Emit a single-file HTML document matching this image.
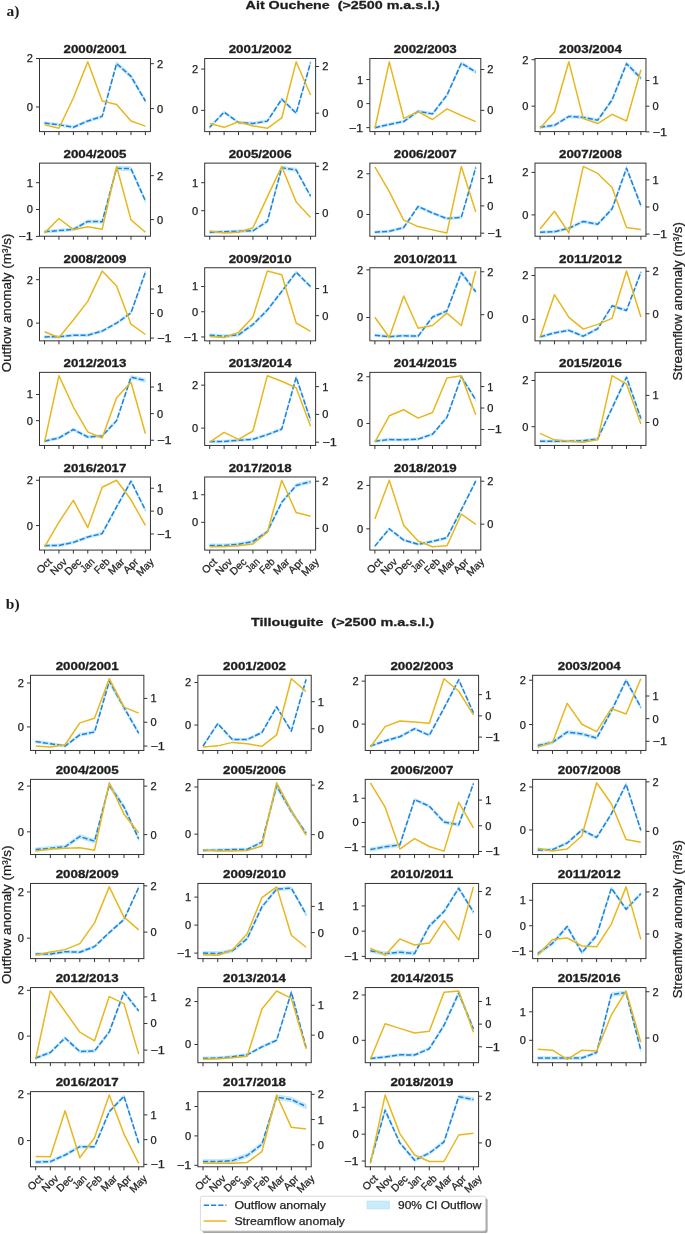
<!DOCTYPE html>
<html><head><meta charset="utf-8"><style>
html,body{margin:0;padding:0;background:#fff;width:685px;height:1234px;overflow:hidden}
svg{display:block;will-change:transform}
</style></head><body>
<svg width="685" height="1234" viewBox="0 0 685 1234">
<rect width="685" height="1234" fill="#ffffff"/>
<text x="6.60" y="16.00" font-family='"Liberation Serif", serif' font-size="15.50" font-weight="bold" text-anchor="start" fill="#1e1e1e">a)</text>
<text x="5.80" y="608.90" font-family='"Liberation Serif", serif' font-size="15.50" font-weight="bold" text-anchor="start" fill="#1e1e1e">b)</text>
<text x="245.60" y="9.20" font-family='"Liberation Sans", sans-serif' font-size="11.54" font-weight="bold" text-anchor="start" fill="#1e1e1e" textLength="194.30" lengthAdjust="spacingAndGlyphs" xml:space="preserve" stroke="#1e1e1e" stroke-width="0.30" stroke-linejoin="round">Ait Ouchene  (&gt;2500 m.a.s.l.)</text>
<text x="251.00" y="626.20" font-family='"Liberation Sans", sans-serif' font-size="11.54" font-weight="bold" text-anchor="start" fill="#1e1e1e" textLength="183.00" lengthAdjust="spacingAndGlyphs" xml:space="preserve" stroke="#1e1e1e" stroke-width="0.30" stroke-linejoin="round">Tillouguite  (&gt;2500 m.a.s.l.)</text>
<g transform="translate(10.80,303.00) rotate(-90)">
<text x="0.00" y="0.00" font-family='"Liberation Sans", sans-serif' font-size="12.06" text-anchor="middle" fill="#1e1e1e" textLength="138.60" lengthAdjust="spacingAndGlyphs" stroke="#1e1e1e" stroke-width="0.25" stroke-linejoin="round">Outflow anomaly (m³/s)</text>
</g>
<g transform="translate(10.80,914.80) rotate(-90)">
<text x="0.00" y="0.00" font-family='"Liberation Sans", sans-serif' font-size="12.06" text-anchor="middle" fill="#1e1e1e" textLength="138.60" lengthAdjust="spacingAndGlyphs" stroke="#1e1e1e" stroke-width="0.25" stroke-linejoin="round">Outflow anomaly (m³/s)</text>
</g>
<g transform="translate(682.30,301.30) rotate(-90)">
<text x="0.00" y="0.00" font-family='"Liberation Sans", sans-serif' font-size="12.06" text-anchor="middle" fill="#1e1e1e" textLength="158.20" lengthAdjust="spacingAndGlyphs" stroke="#1e1e1e" stroke-width="0.25" stroke-linejoin="round">Streamflow anomaly (m³/s)</text>
</g>
<g transform="translate(682.30,919.20) rotate(-90)">
<text x="0.00" y="0.00" font-family='"Liberation Sans", sans-serif' font-size="12.06" text-anchor="middle" fill="#1e1e1e" textLength="158.20" lengthAdjust="spacingAndGlyphs" stroke="#1e1e1e" stroke-width="0.25" stroke-linejoin="round">Streamflow anomaly (m³/s)</text>
</g>
<polygon points="44.54,121.68 58.95,123.50 73.36,125.92 87.77,119.65 102.18,115.00 116.59,61.62 131.00,74.56 145.41,99.43 145.41,102.57 131.00,78.24 116.59,65.58 102.18,117.80 87.77,122.35 73.36,128.48 58.95,126.10 44.54,124.32" fill="#c9ecf8" stroke="#b6e5f5" stroke-width="0.7" stroke-linejoin="round"/>
<polyline points="44.54,123.00 58.95,124.80 73.36,127.20 87.77,121.00 102.18,116.40 116.59,63.60 131.00,76.40 145.41,101.00" fill="none" stroke="#1f80e0" stroke-width="1.50" stroke-dasharray="5.2,2.0" stroke-linejoin="round"/>
<polyline points="44.54,124.89 58.95,128.28 73.36,98.03 87.77,61.82 102.18,101.02 116.59,104.40 131.00,120.92 145.41,126.09" fill="none" stroke="#e8b71d" stroke-width="1.50" stroke-linejoin="round"/>
<rect x="39.50" y="58.50" width="110.95" height="73.10" fill="none" stroke="#333333" stroke-width="1.00"/>
<text x="32.90" y="62.45" font-family='"Liberation Sans", sans-serif' font-size="10.40" text-anchor="end" fill="#1e1e1e" textLength="6.16" lengthAdjust="spacingAndGlyphs" stroke="#1e1e1e" stroke-width="0.25" stroke-linejoin="round">2</text>
<text x="32.90" y="110.95" font-family='"Liberation Sans", sans-serif' font-size="10.40" text-anchor="end" fill="#1e1e1e" textLength="6.16" lengthAdjust="spacingAndGlyphs" stroke="#1e1e1e" stroke-width="0.25" stroke-linejoin="round">0</text>
<text x="157.05" y="67.65" font-family='"Liberation Sans", sans-serif' font-size="10.40" text-anchor="start" fill="#1e1e1e" textLength="6.16" lengthAdjust="spacingAndGlyphs" stroke="#1e1e1e" stroke-width="0.25" stroke-linejoin="round">2</text>
<text x="157.05" y="112.55" font-family='"Liberation Sans", sans-serif' font-size="10.40" text-anchor="start" fill="#1e1e1e" textLength="6.16" lengthAdjust="spacingAndGlyphs" stroke="#1e1e1e" stroke-width="0.25" stroke-linejoin="round">0</text>
<path d="M44.54,131.60v3.50M58.95,131.60v3.50M73.36,131.60v3.50M87.77,131.60v3.50M102.18,131.60v3.50M116.59,131.60v3.50M131.00,131.60v3.50M145.41,131.60v3.50M39.50,58.50h-3.50M39.50,107.00h-3.50M150.45,63.70h3.50M150.45,108.60h3.50" stroke="#333333" stroke-width="1.00" fill="none"/>
<text x="94.97" y="53.30" font-family='"Liberation Sans", sans-serif' font-size="10.92" font-weight="bold" text-anchor="middle" fill="#1e1e1e" textLength="62.88" lengthAdjust="spacingAndGlyphs" stroke="#1e1e1e" stroke-width="0.30" stroke-linejoin="round">2000/2001</text>
<polygon points="209.71,125.90 224.12,110.97 238.53,121.23 252.94,122.17 267.35,119.84 281.76,97.92 296.17,111.91 310.58,61.31 310.58,63.71 296.17,114.45 281.76,100.42 267.35,122.40 252.94,124.74 238.53,123.80 224.12,113.51 209.71,128.48" fill="#c9ecf8" stroke="#b6e5f5" stroke-width="0.7" stroke-linejoin="round"/>
<polyline points="209.71,127.19 224.12,112.24 238.53,122.52 252.94,123.45 267.35,121.12 281.76,99.17 296.17,113.18 310.58,62.51" fill="none" stroke="#1f80e0" stroke-width="1.50" stroke-dasharray="5.2,2.0" stroke-linejoin="round"/>
<polyline points="209.71,123.60 224.12,127.34 238.53,121.73 252.94,125.94 267.35,128.28 281.76,117.98 296.17,61.82 310.58,95.05" fill="none" stroke="#e8b71d" stroke-width="1.50" stroke-linejoin="round"/>
<rect x="204.67" y="58.50" width="110.95" height="73.10" fill="none" stroke="#333333" stroke-width="1.00"/>
<text x="198.07" y="73.00" font-family='"Liberation Sans", sans-serif' font-size="10.40" text-anchor="end" fill="#1e1e1e" textLength="6.16" lengthAdjust="spacingAndGlyphs" stroke="#1e1e1e" stroke-width="0.25" stroke-linejoin="round">2</text>
<text x="198.07" y="114.33" font-family='"Liberation Sans", sans-serif' font-size="10.40" text-anchor="end" fill="#1e1e1e" textLength="6.16" lengthAdjust="spacingAndGlyphs" stroke="#1e1e1e" stroke-width="0.25" stroke-linejoin="round">0</text>
<text x="322.22" y="70.43" font-family='"Liberation Sans", sans-serif' font-size="10.40" text-anchor="start" fill="#1e1e1e" textLength="6.16" lengthAdjust="spacingAndGlyphs" stroke="#1e1e1e" stroke-width="0.25" stroke-linejoin="round">2</text>
<text x="322.22" y="117.13" font-family='"Liberation Sans", sans-serif' font-size="10.40" text-anchor="start" fill="#1e1e1e" textLength="6.16" lengthAdjust="spacingAndGlyphs" stroke="#1e1e1e" stroke-width="0.25" stroke-linejoin="round">0</text>
<path d="M209.71,131.60v3.50M224.12,131.60v3.50M238.53,131.60v3.50M252.94,131.60v3.50M267.35,131.60v3.50M281.76,131.60v3.50M296.17,131.60v3.50M310.58,131.60v3.50M204.67,69.05h-3.50M204.67,110.38h-3.50M315.62,66.48h3.50M315.62,113.18h3.50" stroke="#333333" stroke-width="1.00" fill="none"/>
<text x="260.14" y="53.30" font-family='"Liberation Sans", sans-serif' font-size="10.92" font-weight="bold" text-anchor="middle" fill="#1e1e1e" textLength="62.88" lengthAdjust="spacingAndGlyphs" stroke="#1e1e1e" stroke-width="0.30" stroke-linejoin="round">2001/2002</text>
<polygon points="374.88,126.45 389.29,123.17 403.70,120.35 418.11,110.01 432.52,112.60 446.93,93.80 461.34,61.62 475.75,70.55 475.75,73.61 461.34,64.79 446.93,96.59 432.52,115.16 418.11,112.61 403.70,122.82 389.29,125.61 374.88,128.85" fill="#c9ecf8" stroke="#b6e5f5" stroke-width="0.7" stroke-linejoin="round"/>
<polyline points="374.88,127.65 389.29,124.39 403.70,121.58 418.11,111.31 432.52,113.88 446.93,95.20 461.34,63.21 475.75,72.08" fill="none" stroke="#1f80e0" stroke-width="1.50" stroke-dasharray="5.2,2.0" stroke-linejoin="round"/>
<polyline points="374.88,128.28 389.29,61.82 403.70,118.31 418.11,111.66 432.52,119.50 446.93,108.82 461.34,115.46 475.75,121.63" fill="none" stroke="#e8b71d" stroke-width="1.50" stroke-linejoin="round"/>
<rect x="369.84" y="58.50" width="110.95" height="73.10" fill="none" stroke="#333333" stroke-width="1.00"/>
<text x="363.24" y="83.50" font-family='"Liberation Sans", sans-serif' font-size="10.40" text-anchor="end" fill="#1e1e1e" textLength="6.16" lengthAdjust="spacingAndGlyphs" stroke="#1e1e1e" stroke-width="0.25" stroke-linejoin="round">1</text>
<text x="363.24" y="107.55" font-family='"Liberation Sans", sans-serif' font-size="10.40" text-anchor="end" fill="#1e1e1e" textLength="6.16" lengthAdjust="spacingAndGlyphs" stroke="#1e1e1e" stroke-width="0.25" stroke-linejoin="round">0</text>
<text x="363.24" y="131.60" font-family='"Liberation Sans", sans-serif' font-size="10.40" text-anchor="end" fill="#1e1e1e" textLength="14.54" lengthAdjust="spacingAndGlyphs" stroke="#1e1e1e" stroke-width="0.25" stroke-linejoin="round">−1</text>
<text x="487.39" y="73.46" font-family='"Liberation Sans", sans-serif' font-size="10.40" text-anchor="start" fill="#1e1e1e" textLength="6.16" lengthAdjust="spacingAndGlyphs" stroke="#1e1e1e" stroke-width="0.25" stroke-linejoin="round">2</text>
<text x="487.39" y="114.33" font-family='"Liberation Sans", sans-serif' font-size="10.40" text-anchor="start" fill="#1e1e1e" textLength="6.16" lengthAdjust="spacingAndGlyphs" stroke="#1e1e1e" stroke-width="0.25" stroke-linejoin="round">0</text>
<path d="M374.88,131.60v3.50M389.29,131.60v3.50M403.70,131.60v3.50M418.11,131.60v3.50M432.52,131.60v3.50M446.93,131.60v3.50M461.34,131.60v3.50M475.75,131.60v3.50M369.84,79.55h-3.50M369.84,103.60h-3.50M369.84,127.65h-3.50M480.79,69.51h3.50M480.79,110.38h3.50" stroke="#333333" stroke-width="1.00" fill="none"/>
<text x="425.31" y="53.30" font-family='"Liberation Sans", sans-serif' font-size="10.92" font-weight="bold" text-anchor="middle" fill="#1e1e1e" textLength="62.88" lengthAdjust="spacingAndGlyphs" stroke="#1e1e1e" stroke-width="0.30" stroke-linejoin="round">2002/2003</text>
<polygon points="540.05,125.90 554.46,124.01 568.87,115.03 583.28,115.97 597.69,118.81 612.10,98.25 626.51,61.62 640.92,76.27 640.92,80.03 626.51,65.73 612.10,101.49 597.69,121.56 583.28,118.79 568.87,117.87 554.46,126.63 540.05,128.48" fill="#c9ecf8" stroke="#b6e5f5" stroke-width="0.7" stroke-linejoin="round"/>
<polyline points="540.05,127.19 554.46,125.32 568.87,116.45 583.28,117.38 597.69,120.18 612.10,99.87 626.51,63.68 640.92,78.15" fill="none" stroke="#1f80e0" stroke-width="1.50" stroke-dasharray="5.2,2.0" stroke-linejoin="round"/>
<polyline points="540.05,128.28 554.46,112.07 568.87,61.82 583.28,118.65 597.69,123.58 612.10,114.42 626.51,121.00 640.92,69.81" fill="none" stroke="#e8b71d" stroke-width="1.50" stroke-linejoin="round"/>
<rect x="535.01" y="58.50" width="110.95" height="73.10" fill="none" stroke="#333333" stroke-width="1.00"/>
<text x="528.41" y="63.66" font-family='"Liberation Sans", sans-serif' font-size="10.40" text-anchor="end" fill="#1e1e1e" textLength="6.16" lengthAdjust="spacingAndGlyphs" stroke="#1e1e1e" stroke-width="0.25" stroke-linejoin="round">2</text>
<text x="528.41" y="110.12" font-family='"Liberation Sans", sans-serif' font-size="10.40" text-anchor="end" fill="#1e1e1e" textLength="6.16" lengthAdjust="spacingAndGlyphs" stroke="#1e1e1e" stroke-width="0.25" stroke-linejoin="round">0</text>
<text x="652.56" y="84.44" font-family='"Liberation Sans", sans-serif' font-size="10.40" text-anchor="start" fill="#1e1e1e" textLength="6.16" lengthAdjust="spacingAndGlyphs" stroke="#1e1e1e" stroke-width="0.25" stroke-linejoin="round">1</text>
<text x="652.56" y="110.12" font-family='"Liberation Sans", sans-serif' font-size="10.40" text-anchor="start" fill="#1e1e1e" textLength="6.16" lengthAdjust="spacingAndGlyphs" stroke="#1e1e1e" stroke-width="0.25" stroke-linejoin="round">0</text>
<text x="652.56" y="135.81" font-family='"Liberation Sans", sans-serif' font-size="10.40" text-anchor="start" fill="#1e1e1e" textLength="14.54" lengthAdjust="spacingAndGlyphs" stroke="#1e1e1e" stroke-width="0.25" stroke-linejoin="round">−1</text>
<path d="M540.05,131.60v3.50M554.46,131.60v3.50M568.87,131.60v3.50M583.28,131.60v3.50M597.69,131.60v3.50M612.10,131.60v3.50M626.51,131.60v3.50M640.92,131.60v3.50M535.01,59.71h-3.50M535.01,106.17h-3.50M645.96,80.49h3.50M645.96,106.17h3.50M645.96,131.86h3.50" stroke="#333333" stroke-width="1.00" fill="none"/>
<text x="590.49" y="53.30" font-family='"Liberation Sans", sans-serif' font-size="10.92" font-weight="bold" text-anchor="middle" fill="#1e1e1e" textLength="62.88" lengthAdjust="spacingAndGlyphs" stroke="#1e1e1e" stroke-width="0.30" stroke-linejoin="round">2003/2004</text>
<polygon points="44.54,230.34 58.95,229.17 73.36,227.99 87.77,219.97 102.18,220.21 116.59,166.24 131.00,166.71 145.41,199.24 145.41,202.56 131.00,170.64 116.59,170.17 102.18,223.15 87.77,222.92 73.36,230.78 58.95,231.94 44.54,233.10" fill="#c9ecf8" stroke="#b6e5f5" stroke-width="0.7" stroke-linejoin="round"/>
<polyline points="44.54,231.72 58.95,230.55 73.36,229.39 87.77,221.45 102.18,221.68 116.59,168.21 131.00,168.68 145.41,200.90" fill="none" stroke="#1f80e0" stroke-width="1.50" stroke-dasharray="5.2,2.0" stroke-linejoin="round"/>
<polyline points="44.54,232.90 58.95,218.49 73.36,229.64 87.77,226.86 102.18,229.18 116.59,166.44 131.00,219.89 145.41,232.20" fill="none" stroke="#e8b71d" stroke-width="1.50" stroke-linejoin="round"/>
<rect x="39.50" y="163.12" width="110.95" height="73.10" fill="none" stroke="#333333" stroke-width="1.00"/>
<text x="32.90" y="186.64" font-family='"Liberation Sans", sans-serif' font-size="10.40" text-anchor="end" fill="#1e1e1e" textLength="6.16" lengthAdjust="spacingAndGlyphs" stroke="#1e1e1e" stroke-width="0.25" stroke-linejoin="round">1</text>
<text x="32.90" y="213.49" font-family='"Liberation Sans", sans-serif' font-size="10.40" text-anchor="end" fill="#1e1e1e" textLength="6.16" lengthAdjust="spacingAndGlyphs" stroke="#1e1e1e" stroke-width="0.25" stroke-linejoin="round">0</text>
<text x="32.90" y="240.34" font-family='"Liberation Sans", sans-serif' font-size="10.40" text-anchor="end" fill="#1e1e1e" textLength="14.54" lengthAdjust="spacingAndGlyphs" stroke="#1e1e1e" stroke-width="0.25" stroke-linejoin="round">−1</text>
<text x="157.05" y="179.63" font-family='"Liberation Sans", sans-serif' font-size="10.40" text-anchor="start" fill="#1e1e1e" textLength="6.16" lengthAdjust="spacingAndGlyphs" stroke="#1e1e1e" stroke-width="0.25" stroke-linejoin="round">2</text>
<text x="157.05" y="223.53" font-family='"Liberation Sans", sans-serif' font-size="10.40" text-anchor="start" fill="#1e1e1e" textLength="6.16" lengthAdjust="spacingAndGlyphs" stroke="#1e1e1e" stroke-width="0.25" stroke-linejoin="round">0</text>
<path d="M44.54,236.22v3.50M58.95,236.22v3.50M73.36,236.22v3.50M87.77,236.22v3.50M102.18,236.22v3.50M116.59,236.22v3.50M131.00,236.22v3.50M145.41,236.22v3.50M39.50,182.69h-3.50M39.50,209.54h-3.50M39.50,236.39h-3.50M150.45,175.68h3.50M150.45,219.58h3.50" stroke="#333333" stroke-width="1.00" fill="none"/>
<text x="94.97" y="157.92" font-family='"Liberation Sans", sans-serif' font-size="10.92" font-weight="bold" text-anchor="middle" fill="#1e1e1e" textLength="62.88" lengthAdjust="spacingAndGlyphs" stroke="#1e1e1e" stroke-width="0.30" stroke-linejoin="round">2004/2005</text>
<polygon points="209.71,230.99 224.12,230.52 238.53,230.05 252.94,229.58 267.35,220.20 281.76,166.24 296.17,168.35 310.58,194.86 310.58,197.59 296.17,171.33 281.76,169.24 267.35,222.70 252.94,231.99 238.53,232.46 224.12,232.92 209.71,233.39" fill="#c9ecf8" stroke="#b6e5f5" stroke-width="0.7" stroke-linejoin="round"/>
<polyline points="209.71,232.19 224.12,231.72 238.53,231.25 252.94,230.79 267.35,221.45 281.76,167.74 296.17,169.84 310.58,196.23" fill="none" stroke="#1f80e0" stroke-width="1.50" stroke-dasharray="5.2,2.0" stroke-linejoin="round"/>
<polyline points="209.71,231.03 224.12,232.90 238.53,232.20 252.94,227.75 267.35,196.86 281.76,166.44 296.17,202.01 310.58,217.45" fill="none" stroke="#e8b71d" stroke-width="1.50" stroke-linejoin="round"/>
<rect x="204.67" y="163.12" width="110.95" height="73.10" fill="none" stroke="#333333" stroke-width="1.00"/>
<text x="198.07" y="186.64" font-family='"Liberation Sans", sans-serif' font-size="10.40" text-anchor="end" fill="#1e1e1e" textLength="6.16" lengthAdjust="spacingAndGlyphs" stroke="#1e1e1e" stroke-width="0.25" stroke-linejoin="round">1</text>
<text x="198.07" y="214.66" font-family='"Liberation Sans", sans-serif' font-size="10.40" text-anchor="end" fill="#1e1e1e" textLength="6.16" lengthAdjust="spacingAndGlyphs" stroke="#1e1e1e" stroke-width="0.25" stroke-linejoin="round">0</text>
<text x="322.22" y="170.29" font-family='"Liberation Sans", sans-serif' font-size="10.40" text-anchor="start" fill="#1e1e1e" textLength="6.16" lengthAdjust="spacingAndGlyphs" stroke="#1e1e1e" stroke-width="0.25" stroke-linejoin="round">2</text>
<text x="322.22" y="217.46" font-family='"Liberation Sans", sans-serif' font-size="10.40" text-anchor="start" fill="#1e1e1e" textLength="6.16" lengthAdjust="spacingAndGlyphs" stroke="#1e1e1e" stroke-width="0.25" stroke-linejoin="round">0</text>
<path d="M209.71,236.22v3.50M224.12,236.22v3.50M238.53,236.22v3.50M252.94,236.22v3.50M267.35,236.22v3.50M281.76,236.22v3.50M296.17,236.22v3.50M310.58,236.22v3.50M204.67,182.69h-3.50M204.67,210.71h-3.50M315.62,166.34h3.50M315.62,213.51h3.50" stroke="#333333" stroke-width="1.00" fill="none"/>
<text x="260.14" y="157.92" font-family='"Liberation Sans", sans-serif' font-size="10.92" font-weight="bold" text-anchor="middle" fill="#1e1e1e" textLength="62.88" lengthAdjust="spacingAndGlyphs" stroke="#1e1e1e" stroke-width="0.30" stroke-linejoin="round">2005/2006</text>
<polygon points="374.88,230.99 389.29,230.05 403.70,226.31 418.11,205.28 432.52,211.82 446.93,217.43 461.34,216.03 475.75,166.24 475.75,168.77 461.34,218.46 446.93,219.86 432.52,214.26 418.11,207.73 403.70,228.72 389.29,232.45 374.88,233.39" fill="#c9ecf8" stroke="#b6e5f5" stroke-width="0.7" stroke-linejoin="round"/>
<polyline points="374.88,232.19 389.29,231.25 403.70,227.52 418.11,206.50 432.52,213.04 446.93,218.64 461.34,217.24 475.75,167.51" fill="none" stroke="#1f80e0" stroke-width="1.50" stroke-dasharray="5.2,2.0" stroke-linejoin="round"/>
<polyline points="374.88,166.91 389.29,191.63 403.70,220.07 418.11,226.60 432.52,229.87 446.93,232.90 461.34,166.44 475.75,211.91" fill="none" stroke="#e8b71d" stroke-width="1.50" stroke-linejoin="round"/>
<rect x="369.84" y="163.12" width="110.95" height="73.10" fill="none" stroke="#333333" stroke-width="1.00"/>
<text x="363.24" y="177.76" font-family='"Liberation Sans", sans-serif' font-size="10.40" text-anchor="end" fill="#1e1e1e" textLength="6.16" lengthAdjust="spacingAndGlyphs" stroke="#1e1e1e" stroke-width="0.25" stroke-linejoin="round">2</text>
<text x="363.24" y="218.39" font-family='"Liberation Sans", sans-serif' font-size="10.40" text-anchor="end" fill="#1e1e1e" textLength="6.16" lengthAdjust="spacingAndGlyphs" stroke="#1e1e1e" stroke-width="0.25" stroke-linejoin="round">0</text>
<text x="487.39" y="182.51" font-family='"Liberation Sans", sans-serif' font-size="10.40" text-anchor="start" fill="#1e1e1e" textLength="6.16" lengthAdjust="spacingAndGlyphs" stroke="#1e1e1e" stroke-width="0.25" stroke-linejoin="round">1</text>
<text x="487.39" y="209.83" font-family='"Liberation Sans", sans-serif' font-size="10.40" text-anchor="start" fill="#1e1e1e" textLength="6.16" lengthAdjust="spacingAndGlyphs" stroke="#1e1e1e" stroke-width="0.25" stroke-linejoin="round">0</text>
<text x="487.39" y="237.15" font-family='"Liberation Sans", sans-serif' font-size="10.40" text-anchor="start" fill="#1e1e1e" textLength="14.54" lengthAdjust="spacingAndGlyphs" stroke="#1e1e1e" stroke-width="0.25" stroke-linejoin="round">−1</text>
<path d="M374.88,236.22v3.50M389.29,236.22v3.50M403.70,236.22v3.50M418.11,236.22v3.50M432.52,236.22v3.50M446.93,236.22v3.50M461.34,236.22v3.50M475.75,236.22v3.50M369.84,173.81h-3.50M369.84,214.44h-3.50M480.79,178.56h3.50M480.79,205.88h3.50M480.79,233.20h3.50" stroke="#333333" stroke-width="1.00" fill="none"/>
<text x="425.31" y="157.92" font-family='"Liberation Sans", sans-serif' font-size="10.92" font-weight="bold" text-anchor="middle" fill="#1e1e1e" textLength="62.88" lengthAdjust="spacingAndGlyphs" stroke="#1e1e1e" stroke-width="0.30" stroke-linejoin="round">2006/2007</text>
<polygon points="540.05,230.99 554.46,230.52 568.87,226.97 583.28,220.12 597.69,222.95 612.10,207.36 626.51,166.24 640.92,204.05 640.92,207.09 626.51,170.17 612.10,210.32 597.69,225.54 583.28,222.78 568.87,229.47 554.46,232.93 540.05,233.39" fill="#c9ecf8" stroke="#b6e5f5" stroke-width="0.7" stroke-linejoin="round"/>
<polyline points="540.05,232.19 554.46,231.72 568.87,228.22 583.28,221.45 597.69,224.25 612.10,208.84 626.51,168.21 640.92,205.57" fill="none" stroke="#1f80e0" stroke-width="1.50" stroke-dasharray="5.2,2.0" stroke-linejoin="round"/>
<polyline points="540.05,228.93 554.46,211.21 568.87,232.90 583.28,166.44 597.69,173.44 612.10,187.43 626.51,227.53 640.92,229.40" fill="none" stroke="#e8b71d" stroke-width="1.50" stroke-linejoin="round"/>
<rect x="535.01" y="163.12" width="110.95" height="73.10" fill="none" stroke="#333333" stroke-width="1.00"/>
<text x="528.41" y="176.36" font-family='"Liberation Sans", sans-serif' font-size="10.40" text-anchor="end" fill="#1e1e1e" textLength="6.16" lengthAdjust="spacingAndGlyphs" stroke="#1e1e1e" stroke-width="0.25" stroke-linejoin="round">2</text>
<text x="528.41" y="218.86" font-family='"Liberation Sans", sans-serif' font-size="10.40" text-anchor="end" fill="#1e1e1e" textLength="6.16" lengthAdjust="spacingAndGlyphs" stroke="#1e1e1e" stroke-width="0.25" stroke-linejoin="round">0</text>
<text x="652.56" y="183.83" font-family='"Liberation Sans", sans-serif' font-size="10.40" text-anchor="start" fill="#1e1e1e" textLength="6.16" lengthAdjust="spacingAndGlyphs" stroke="#1e1e1e" stroke-width="0.25" stroke-linejoin="round">1</text>
<text x="652.56" y="210.92" font-family='"Liberation Sans", sans-serif' font-size="10.40" text-anchor="start" fill="#1e1e1e" textLength="6.16" lengthAdjust="spacingAndGlyphs" stroke="#1e1e1e" stroke-width="0.25" stroke-linejoin="round">0</text>
<text x="652.56" y="238.01" font-family='"Liberation Sans", sans-serif' font-size="10.40" text-anchor="start" fill="#1e1e1e" textLength="14.54" lengthAdjust="spacingAndGlyphs" stroke="#1e1e1e" stroke-width="0.25" stroke-linejoin="round">−1</text>
<path d="M540.05,236.22v3.50M554.46,236.22v3.50M568.87,236.22v3.50M583.28,236.22v3.50M597.69,236.22v3.50M612.10,236.22v3.50M626.51,236.22v3.50M640.92,236.22v3.50M535.01,172.41h-3.50M535.01,214.91h-3.50M645.96,179.88h3.50M645.96,206.97h3.50M645.96,234.06h3.50" stroke="#333333" stroke-width="1.00" fill="none"/>
<text x="590.49" y="157.92" font-family='"Liberation Sans", sans-serif' font-size="10.92" font-weight="bold" text-anchor="middle" fill="#1e1e1e" textLength="62.88" lengthAdjust="spacingAndGlyphs" stroke="#1e1e1e" stroke-width="0.30" stroke-linejoin="round">2007/2008</text>
<polygon points="44.54,335.69 58.95,335.45 73.36,334.05 87.77,334.05 102.18,329.84 116.59,321.88 131.00,311.58 145.41,270.86 145.41,273.55 131.00,314.09 116.59,324.34 102.18,332.26 87.77,336.46 73.36,336.46 58.95,337.86 44.54,338.09" fill="#c9ecf8" stroke="#b6e5f5" stroke-width="0.7" stroke-linejoin="round"/>
<polyline points="44.54,336.89 58.95,336.65 73.36,335.25 87.77,335.25 102.18,331.05 116.59,323.11 131.00,312.84 145.41,272.21" fill="none" stroke="#1f80e0" stroke-width="1.50" stroke-dasharray="5.2,2.0" stroke-linejoin="round"/>
<polyline points="44.54,331.69 58.95,337.52 73.36,320.03 87.77,301.38 102.18,271.06 116.59,285.99 131.00,324.23 145.41,334.49" fill="none" stroke="#e8b71d" stroke-width="1.50" stroke-linejoin="round"/>
<rect x="39.50" y="267.74" width="110.95" height="73.10" fill="none" stroke="#333333" stroke-width="1.00"/>
<text x="32.90" y="283.63" font-family='"Liberation Sans", sans-serif' font-size="10.40" text-anchor="end" fill="#1e1e1e" textLength="6.16" lengthAdjust="spacingAndGlyphs" stroke="#1e1e1e" stroke-width="0.25" stroke-linejoin="round">2</text>
<text x="32.90" y="327.06" font-family='"Liberation Sans", sans-serif' font-size="10.40" text-anchor="end" fill="#1e1e1e" textLength="6.16" lengthAdjust="spacingAndGlyphs" stroke="#1e1e1e" stroke-width="0.25" stroke-linejoin="round">0</text>
<text x="157.05" y="292.97" font-family='"Liberation Sans", sans-serif' font-size="10.40" text-anchor="start" fill="#1e1e1e" textLength="6.16" lengthAdjust="spacingAndGlyphs" stroke="#1e1e1e" stroke-width="0.25" stroke-linejoin="round">1</text>
<text x="157.05" y="317.49" font-family='"Liberation Sans", sans-serif' font-size="10.40" text-anchor="start" fill="#1e1e1e" textLength="6.16" lengthAdjust="spacingAndGlyphs" stroke="#1e1e1e" stroke-width="0.25" stroke-linejoin="round">0</text>
<text x="157.05" y="342.01" font-family='"Liberation Sans", sans-serif' font-size="10.40" text-anchor="start" fill="#1e1e1e" textLength="14.54" lengthAdjust="spacingAndGlyphs" stroke="#1e1e1e" stroke-width="0.25" stroke-linejoin="round">−1</text>
<path d="M44.54,340.84v3.50M58.95,340.84v3.50M73.36,340.84v3.50M87.77,340.84v3.50M102.18,340.84v3.50M116.59,340.84v3.50M131.00,340.84v3.50M145.41,340.84v3.50M39.50,279.68h-3.50M39.50,323.11h-3.50M150.45,289.02h3.50M150.45,313.54h3.50M150.45,338.06h3.50" stroke="#333333" stroke-width="1.00" fill="none"/>
<text x="94.97" y="262.54" font-family='"Liberation Sans", sans-serif' font-size="10.92" font-weight="bold" text-anchor="middle" fill="#1e1e1e" textLength="62.88" lengthAdjust="spacingAndGlyphs" stroke="#1e1e1e" stroke-width="0.30" stroke-linejoin="round">2008/2009</text>
<polygon points="209.71,333.73 224.12,334.66 238.53,333.26 252.94,323.02 267.35,308.58 281.76,289.95 296.17,270.86 310.58,285.30 310.58,288.07 296.17,273.55 281.76,292.76 267.35,311.49 252.94,326.01 238.53,336.31 224.12,337.72 209.71,336.78" fill="#c9ecf8" stroke="#b6e5f5" stroke-width="0.7" stroke-linejoin="round"/>
<polyline points="209.71,335.25 224.12,336.19 238.53,334.79 252.94,324.51 267.35,310.04 281.76,291.36 296.17,272.21 310.58,286.69" fill="none" stroke="#1f80e0" stroke-width="1.50" stroke-dasharray="5.2,2.0" stroke-linejoin="round"/>
<polyline points="209.71,336.58 224.12,337.52 238.53,332.37 252.94,316.93 267.35,271.06 281.76,274.81 296.17,323.01 310.58,331.43" fill="none" stroke="#e8b71d" stroke-width="1.50" stroke-linejoin="round"/>
<rect x="204.67" y="267.74" width="110.95" height="73.10" fill="none" stroke="#333333" stroke-width="1.00"/>
<text x="198.07" y="290.48" font-family='"Liberation Sans", sans-serif' font-size="10.40" text-anchor="end" fill="#1e1e1e" textLength="6.16" lengthAdjust="spacingAndGlyphs" stroke="#1e1e1e" stroke-width="0.25" stroke-linejoin="round">1</text>
<text x="198.07" y="315.70" font-family='"Liberation Sans", sans-serif' font-size="10.40" text-anchor="end" fill="#1e1e1e" textLength="6.16" lengthAdjust="spacingAndGlyphs" stroke="#1e1e1e" stroke-width="0.25" stroke-linejoin="round">0</text>
<text x="198.07" y="340.92" font-family='"Liberation Sans", sans-serif' font-size="10.40" text-anchor="end" fill="#1e1e1e" textLength="14.54" lengthAdjust="spacingAndGlyphs" stroke="#1e1e1e" stroke-width="0.25" stroke-linejoin="round">−1</text>
<text x="322.22" y="292.50" font-family='"Liberation Sans", sans-serif' font-size="10.40" text-anchor="start" fill="#1e1e1e" textLength="6.16" lengthAdjust="spacingAndGlyphs" stroke="#1e1e1e" stroke-width="0.25" stroke-linejoin="round">1</text>
<text x="322.22" y="319.59" font-family='"Liberation Sans", sans-serif' font-size="10.40" text-anchor="start" fill="#1e1e1e" textLength="6.16" lengthAdjust="spacingAndGlyphs" stroke="#1e1e1e" stroke-width="0.25" stroke-linejoin="round">0</text>
<path d="M209.71,340.84v3.50M224.12,340.84v3.50M238.53,340.84v3.50M252.94,340.84v3.50M267.35,340.84v3.50M281.76,340.84v3.50M296.17,340.84v3.50M310.58,340.84v3.50M204.67,286.53h-3.50M204.67,311.75h-3.50M204.67,336.97h-3.50M315.62,288.55h3.50M315.62,315.64h3.50" stroke="#333333" stroke-width="1.00" fill="none"/>
<text x="260.14" y="262.54" font-family='"Liberation Sans", sans-serif' font-size="10.92" font-weight="bold" text-anchor="middle" fill="#1e1e1e" textLength="62.88" lengthAdjust="spacingAndGlyphs" stroke="#1e1e1e" stroke-width="0.30" stroke-linejoin="round">2009/2010</text>
<polygon points="374.88,334.04 389.29,335.45 403.70,334.51 418.11,334.98 432.52,315.65 446.93,309.52 461.34,270.86 475.75,290.19 475.75,293.45 461.34,274.49 446.93,312.42 432.52,318.43 418.11,337.39 403.70,336.93 389.29,337.85 374.88,336.47" fill="#c9ecf8" stroke="#b6e5f5" stroke-width="0.7" stroke-linejoin="round"/>
<polyline points="374.88,335.25 389.29,336.65 403.70,335.72 418.11,336.19 432.52,317.04 446.93,310.97 461.34,272.68 475.75,291.82" fill="none" stroke="#1f80e0" stroke-width="1.50" stroke-dasharray="5.2,2.0" stroke-linejoin="round"/>
<polyline points="374.88,317.21 389.29,337.52 403.70,295.98 418.11,328.29 432.52,325.52 446.93,313.06 461.34,325.52 475.75,271.06" fill="none" stroke="#e8b71d" stroke-width="1.50" stroke-linejoin="round"/>
<rect x="369.84" y="267.74" width="110.95" height="73.10" fill="none" stroke="#333333" stroke-width="1.00"/>
<text x="363.24" y="273.82" font-family='"Liberation Sans", sans-serif' font-size="10.40" text-anchor="end" fill="#1e1e1e" textLength="6.16" lengthAdjust="spacingAndGlyphs" stroke="#1e1e1e" stroke-width="0.25" stroke-linejoin="round">2</text>
<text x="363.24" y="321.46" font-family='"Liberation Sans", sans-serif' font-size="10.40" text-anchor="end" fill="#1e1e1e" textLength="6.16" lengthAdjust="spacingAndGlyphs" stroke="#1e1e1e" stroke-width="0.25" stroke-linejoin="round">0</text>
<text x="487.39" y="275.69" font-family='"Liberation Sans", sans-serif' font-size="10.40" text-anchor="start" fill="#1e1e1e" textLength="6.16" lengthAdjust="spacingAndGlyphs" stroke="#1e1e1e" stroke-width="0.25" stroke-linejoin="round">2</text>
<text x="487.39" y="318.66" font-family='"Liberation Sans", sans-serif' font-size="10.40" text-anchor="start" fill="#1e1e1e" textLength="6.16" lengthAdjust="spacingAndGlyphs" stroke="#1e1e1e" stroke-width="0.25" stroke-linejoin="round">0</text>
<path d="M374.88,340.84v3.50M389.29,340.84v3.50M403.70,340.84v3.50M418.11,340.84v3.50M432.52,340.84v3.50M446.93,340.84v3.50M461.34,340.84v3.50M475.75,340.84v3.50M369.84,269.87h-3.50M369.84,317.51h-3.50M480.79,271.74h3.50M480.79,314.71h3.50" stroke="#333333" stroke-width="1.00" fill="none"/>
<text x="425.31" y="262.54" font-family='"Liberation Sans", sans-serif' font-size="10.92" font-weight="bold" text-anchor="middle" fill="#1e1e1e" textLength="62.88" lengthAdjust="spacingAndGlyphs" stroke="#1e1e1e" stroke-width="0.30" stroke-linejoin="round">2010/2011</text>
<polygon points="540.05,335.69 554.46,331.71 568.87,329.14 583.28,334.99 597.69,327.50 612.10,304.56 626.51,309.24 640.92,270.86 640.92,273.55 626.51,311.76 612.10,307.10 597.69,329.93 583.28,337.39 568.87,331.56 554.46,334.13 540.05,338.09" fill="#c9ecf8" stroke="#b6e5f5" stroke-width="0.7" stroke-linejoin="round"/>
<polyline points="540.05,336.89 554.46,332.92 568.87,330.35 583.28,336.19 597.69,328.72 612.10,305.83 626.51,310.50 640.92,272.21" fill="none" stroke="#1f80e0" stroke-width="1.50" stroke-dasharray="5.2,2.0" stroke-linejoin="round"/>
<polyline points="540.05,337.52 554.46,294.70 568.87,317.39 583.28,329.09 597.69,324.41 612.10,318.33 626.51,271.06 640.92,316.93" fill="none" stroke="#e8b71d" stroke-width="1.50" stroke-linejoin="round"/>
<rect x="535.01" y="267.74" width="110.95" height="73.10" fill="none" stroke="#333333" stroke-width="1.00"/>
<text x="528.41" y="279.43" font-family='"Liberation Sans", sans-serif' font-size="10.40" text-anchor="end" fill="#1e1e1e" textLength="6.16" lengthAdjust="spacingAndGlyphs" stroke="#1e1e1e" stroke-width="0.25" stroke-linejoin="round">2</text>
<text x="528.41" y="323.33" font-family='"Liberation Sans", sans-serif' font-size="10.40" text-anchor="end" fill="#1e1e1e" textLength="6.16" lengthAdjust="spacingAndGlyphs" stroke="#1e1e1e" stroke-width="0.25" stroke-linejoin="round">0</text>
<text x="652.56" y="275.22" font-family='"Liberation Sans", sans-serif' font-size="10.40" text-anchor="start" fill="#1e1e1e" textLength="6.16" lengthAdjust="spacingAndGlyphs" stroke="#1e1e1e" stroke-width="0.25" stroke-linejoin="round">2</text>
<text x="652.56" y="317.72" font-family='"Liberation Sans", sans-serif' font-size="10.40" text-anchor="start" fill="#1e1e1e" textLength="6.16" lengthAdjust="spacingAndGlyphs" stroke="#1e1e1e" stroke-width="0.25" stroke-linejoin="round">0</text>
<path d="M540.05,340.84v3.50M554.46,340.84v3.50M568.87,340.84v3.50M583.28,340.84v3.50M597.69,340.84v3.50M612.10,340.84v3.50M626.51,340.84v3.50M640.92,340.84v3.50M535.01,275.48h-3.50M535.01,319.38h-3.50M645.96,271.27h3.50M645.96,313.77h3.50" stroke="#333333" stroke-width="1.00" fill="none"/>
<text x="590.49" y="262.54" font-family='"Liberation Sans", sans-serif' font-size="10.92" font-weight="bold" text-anchor="middle" fill="#1e1e1e" textLength="62.88" lengthAdjust="spacingAndGlyphs" stroke="#1e1e1e" stroke-width="0.30" stroke-linejoin="round">2011/2012</text>
<polygon points="44.54,439.99 58.95,436.69 73.36,428.22 87.77,435.75 102.18,434.81 116.59,419.27 131.00,375.48 145.41,378.78 145.41,382.18 131.00,378.93 116.59,422.01 102.18,437.29 87.77,438.22 73.36,430.81 58.95,439.15 44.54,442.39" fill="#c9ecf8" stroke="#b6e5f5" stroke-width="0.7" stroke-linejoin="round"/>
<polyline points="44.54,441.19 58.95,437.92 73.36,429.51 87.77,436.98 102.18,436.05 116.59,420.64 131.00,377.21 145.41,380.48" fill="none" stroke="#1f80e0" stroke-width="1.50" stroke-dasharray="5.2,2.0" stroke-linejoin="round"/>
<polyline points="44.54,442.14 58.95,375.68 73.36,407.05 87.77,431.91 102.18,437.95 116.59,397.76 131.00,382.19 145.41,433.77" fill="none" stroke="#e8b71d" stroke-width="1.50" stroke-linejoin="round"/>
<rect x="39.50" y="372.36" width="110.95" height="73.10" fill="none" stroke="#333333" stroke-width="1.00"/>
<text x="32.90" y="398.44" font-family='"Liberation Sans", sans-serif' font-size="10.40" text-anchor="end" fill="#1e1e1e" textLength="6.16" lengthAdjust="spacingAndGlyphs" stroke="#1e1e1e" stroke-width="0.25" stroke-linejoin="round">1</text>
<text x="32.90" y="424.59" font-family='"Liberation Sans", sans-serif' font-size="10.40" text-anchor="end" fill="#1e1e1e" textLength="6.16" lengthAdjust="spacingAndGlyphs" stroke="#1e1e1e" stroke-width="0.25" stroke-linejoin="round">0</text>
<text x="157.05" y="390.97" font-family='"Liberation Sans", sans-serif' font-size="10.40" text-anchor="start" fill="#1e1e1e" textLength="6.16" lengthAdjust="spacingAndGlyphs" stroke="#1e1e1e" stroke-width="0.25" stroke-linejoin="round">1</text>
<text x="157.05" y="417.58" font-family='"Liberation Sans", sans-serif' font-size="10.40" text-anchor="start" fill="#1e1e1e" textLength="6.16" lengthAdjust="spacingAndGlyphs" stroke="#1e1e1e" stroke-width="0.25" stroke-linejoin="round">0</text>
<text x="157.05" y="444.20" font-family='"Liberation Sans", sans-serif' font-size="10.40" text-anchor="start" fill="#1e1e1e" textLength="14.54" lengthAdjust="spacingAndGlyphs" stroke="#1e1e1e" stroke-width="0.25" stroke-linejoin="round">−1</text>
<path d="M44.54,445.46v3.50M58.95,445.46v3.50M73.36,445.46v3.50M87.77,445.46v3.50M102.18,445.46v3.50M116.59,445.46v3.50M131.00,445.46v3.50M145.41,445.46v3.50M39.50,394.49h-3.50M39.50,420.64h-3.50M150.45,387.02h3.50M150.45,413.63h3.50M150.45,440.25h3.50" stroke="#333333" stroke-width="1.00" fill="none"/>
<text x="94.97" y="367.16" font-family='"Liberation Sans", sans-serif' font-size="10.92" font-weight="bold" text-anchor="middle" fill="#1e1e1e" textLength="62.88" lengthAdjust="spacingAndGlyphs" stroke="#1e1e1e" stroke-width="0.30" stroke-linejoin="round">2012/2013</text>
<polygon points="209.71,440.45 224.12,440.22 238.53,439.04 252.94,438.10 267.35,433.39 281.76,427.74 296.17,375.48 310.58,418.80 310.58,421.55 296.17,378.93 281.76,430.35 267.35,435.91 252.94,440.54 238.53,441.47 224.12,442.62 209.71,442.85" fill="#c9ecf8" stroke="#b6e5f5" stroke-width="0.7" stroke-linejoin="round"/>
<polyline points="209.71,441.65 224.12,441.42 238.53,440.25 252.94,439.32 267.35,434.65 281.76,429.05 296.17,377.21 310.58,420.17" fill="none" stroke="#1f80e0" stroke-width="1.50" stroke-dasharray="5.2,2.0" stroke-linejoin="round"/>
<polyline points="209.71,442.14 224.12,432.38 238.53,439.35 252.94,430.98 267.35,375.68 281.76,381.26 296.17,387.77 310.58,426.34" fill="none" stroke="#e8b71d" stroke-width="1.50" stroke-linejoin="round"/>
<rect x="204.67" y="372.36" width="110.95" height="73.10" fill="none" stroke="#333333" stroke-width="1.00"/>
<text x="198.07" y="389.10" font-family='"Liberation Sans", sans-serif' font-size="10.40" text-anchor="end" fill="#1e1e1e" textLength="6.16" lengthAdjust="spacingAndGlyphs" stroke="#1e1e1e" stroke-width="0.25" stroke-linejoin="round">2</text>
<text x="198.07" y="432.06" font-family='"Liberation Sans", sans-serif' font-size="10.40" text-anchor="end" fill="#1e1e1e" textLength="6.16" lengthAdjust="spacingAndGlyphs" stroke="#1e1e1e" stroke-width="0.25" stroke-linejoin="round">0</text>
<text x="322.22" y="390.58" font-family='"Liberation Sans", sans-serif' font-size="10.40" text-anchor="start" fill="#1e1e1e" textLength="6.16" lengthAdjust="spacingAndGlyphs" stroke="#1e1e1e" stroke-width="0.25" stroke-linejoin="round">1</text>
<text x="322.22" y="418.36" font-family='"Liberation Sans", sans-serif' font-size="10.40" text-anchor="start" fill="#1e1e1e" textLength="6.16" lengthAdjust="spacingAndGlyphs" stroke="#1e1e1e" stroke-width="0.25" stroke-linejoin="round">0</text>
<text x="322.22" y="446.15" font-family='"Liberation Sans", sans-serif' font-size="10.40" text-anchor="start" fill="#1e1e1e" textLength="14.54" lengthAdjust="spacingAndGlyphs" stroke="#1e1e1e" stroke-width="0.25" stroke-linejoin="round">−1</text>
<path d="M209.71,445.46v3.50M224.12,445.46v3.50M238.53,445.46v3.50M252.94,445.46v3.50M267.35,445.46v3.50M281.76,445.46v3.50M296.17,445.46v3.50M310.58,445.46v3.50M204.67,385.15h-3.50M204.67,428.11h-3.50M315.62,386.63h3.50M315.62,414.41h3.50M315.62,442.20h3.50" stroke="#333333" stroke-width="1.00" fill="none"/>
<text x="260.14" y="367.16" font-family='"Liberation Sans", sans-serif' font-size="10.92" font-weight="bold" text-anchor="middle" fill="#1e1e1e" textLength="62.88" lengthAdjust="spacingAndGlyphs" stroke="#1e1e1e" stroke-width="0.30" stroke-linejoin="round">2013/2014</text>
<polygon points="374.88,439.99 389.29,438.35 403.70,438.59 418.11,437.88 432.52,432.98 446.93,416.15 461.34,375.48 475.75,398.62 475.75,401.10 461.34,378.00 446.93,418.59 432.52,435.39 418.11,440.29 403.70,440.99 389.29,440.75 374.88,442.39" fill="#c9ecf8" stroke="#b6e5f5" stroke-width="0.7" stroke-linejoin="round"/>
<polyline points="374.88,441.19 389.29,439.55 403.70,439.79 418.11,439.09 432.52,434.18 446.93,417.37 461.34,376.74 475.75,399.86" fill="none" stroke="#1f80e0" stroke-width="1.50" stroke-dasharray="5.2,2.0" stroke-linejoin="round"/>
<polyline points="374.88,442.14 389.29,415.79 403.70,409.73 418.11,418.12 432.52,412.52 446.93,378.01 461.34,375.68 475.75,414.86" fill="none" stroke="#e8b71d" stroke-width="1.50" stroke-linejoin="round"/>
<rect x="369.84" y="372.36" width="110.95" height="73.10" fill="none" stroke="#333333" stroke-width="1.00"/>
<text x="363.24" y="380.69" font-family='"Liberation Sans", sans-serif' font-size="10.40" text-anchor="end" fill="#1e1e1e" textLength="6.16" lengthAdjust="spacingAndGlyphs" stroke="#1e1e1e" stroke-width="0.25" stroke-linejoin="round">2</text>
<text x="363.24" y="427.39" font-family='"Liberation Sans", sans-serif' font-size="10.40" text-anchor="end" fill="#1e1e1e" textLength="6.16" lengthAdjust="spacingAndGlyphs" stroke="#1e1e1e" stroke-width="0.25" stroke-linejoin="round">0</text>
<text x="487.39" y="390.50" font-family='"Liberation Sans", sans-serif' font-size="10.40" text-anchor="start" fill="#1e1e1e" textLength="6.16" lengthAdjust="spacingAndGlyphs" stroke="#1e1e1e" stroke-width="0.25" stroke-linejoin="round">1</text>
<text x="487.39" y="411.98" font-family='"Liberation Sans", sans-serif' font-size="10.40" text-anchor="start" fill="#1e1e1e" textLength="6.16" lengthAdjust="spacingAndGlyphs" stroke="#1e1e1e" stroke-width="0.25" stroke-linejoin="round">0</text>
<text x="487.39" y="433.46" font-family='"Liberation Sans", sans-serif' font-size="10.40" text-anchor="start" fill="#1e1e1e" textLength="14.54" lengthAdjust="spacingAndGlyphs" stroke="#1e1e1e" stroke-width="0.25" stroke-linejoin="round">−1</text>
<path d="M374.88,445.46v3.50M389.29,445.46v3.50M403.70,445.46v3.50M418.11,445.46v3.50M432.52,445.46v3.50M446.93,445.46v3.50M461.34,445.46v3.50M475.75,445.46v3.50M369.84,376.74h-3.50M369.84,423.44h-3.50M480.79,386.55h3.50M480.79,408.03h3.50M480.79,429.51h3.50" stroke="#333333" stroke-width="1.00" fill="none"/>
<text x="425.31" y="367.16" font-family='"Liberation Sans", sans-serif' font-size="10.92" font-weight="bold" text-anchor="middle" fill="#1e1e1e" textLength="62.88" lengthAdjust="spacingAndGlyphs" stroke="#1e1e1e" stroke-width="0.30" stroke-linejoin="round">2014/2015</text>
<polygon points="540.05,439.99 554.46,439.99 568.87,439.99 583.28,439.52 597.69,437.63 612.10,406.56 626.51,375.48 640.92,417.15 640.92,419.92 626.51,378.93 612.10,409.50 597.69,440.07 583.28,441.92 568.87,442.39 554.46,442.39 540.05,442.39" fill="#c9ecf8" stroke="#b6e5f5" stroke-width="0.7" stroke-linejoin="round"/>
<polyline points="540.05,441.19 554.46,441.19 568.87,441.19 583.28,440.72 597.69,438.85 612.10,408.03 626.51,377.21 640.92,418.54" fill="none" stroke="#1f80e0" stroke-width="1.50" stroke-dasharray="5.2,2.0" stroke-linejoin="round"/>
<polyline points="540.05,433.31 554.46,439.81 568.87,441.21 583.28,442.14 597.69,439.81 612.10,375.68 626.51,384.05 640.92,424.01" fill="none" stroke="#e8b71d" stroke-width="1.50" stroke-linejoin="round"/>
<rect x="535.01" y="372.36" width="110.95" height="73.10" fill="none" stroke="#333333" stroke-width="1.00"/>
<text x="528.41" y="384.43" font-family='"Liberation Sans", sans-serif' font-size="10.40" text-anchor="end" fill="#1e1e1e" textLength="6.16" lengthAdjust="spacingAndGlyphs" stroke="#1e1e1e" stroke-width="0.25" stroke-linejoin="round">2</text>
<text x="528.41" y="430.66" font-family='"Liberation Sans", sans-serif' font-size="10.40" text-anchor="end" fill="#1e1e1e" textLength="6.16" lengthAdjust="spacingAndGlyphs" stroke="#1e1e1e" stroke-width="0.25" stroke-linejoin="round">0</text>
<text x="652.56" y="399.37" font-family='"Liberation Sans", sans-serif' font-size="10.40" text-anchor="start" fill="#1e1e1e" textLength="6.16" lengthAdjust="spacingAndGlyphs" stroke="#1e1e1e" stroke-width="0.25" stroke-linejoin="round">1</text>
<text x="652.56" y="426.46" font-family='"Liberation Sans", sans-serif' font-size="10.40" text-anchor="start" fill="#1e1e1e" textLength="6.16" lengthAdjust="spacingAndGlyphs" stroke="#1e1e1e" stroke-width="0.25" stroke-linejoin="round">0</text>
<path d="M540.05,445.46v3.50M554.46,445.46v3.50M568.87,445.46v3.50M583.28,445.46v3.50M597.69,445.46v3.50M612.10,445.46v3.50M626.51,445.46v3.50M640.92,445.46v3.50M535.01,380.48h-3.50M535.01,426.71h-3.50M645.96,395.42h3.50M645.96,422.51h3.50" stroke="#333333" stroke-width="1.00" fill="none"/>
<text x="590.49" y="367.16" font-family='"Liberation Sans", sans-serif' font-size="10.92" font-weight="bold" text-anchor="middle" fill="#1e1e1e" textLength="62.88" lengthAdjust="spacingAndGlyphs" stroke="#1e1e1e" stroke-width="0.30" stroke-linejoin="round">2015/2016</text>
<polygon points="44.54,544.35 58.95,544.12 73.36,541.09 87.77,535.73 102.18,532.23 116.59,505.65 131.00,480.01 145.41,508.92 145.41,511.41 131.00,482.41 116.59,508.13 102.18,534.80 87.77,538.30 73.36,543.68 58.95,546.72 44.54,546.96" fill="#c9ecf8" stroke="#b6e5f5" stroke-width="0.7" stroke-linejoin="round"/>
<polyline points="44.54,545.65 58.95,545.42 73.36,542.39 87.77,537.02 102.18,533.51 116.59,506.89 131.00,481.21 145.41,510.16" fill="none" stroke="#1f80e0" stroke-width="1.50" stroke-dasharray="5.2,2.0" stroke-linejoin="round"/>
<polyline points="44.54,546.76 58.95,522.13 73.36,500.29 87.77,527.47 102.18,487.27 116.59,480.30 131.00,499.82 145.41,525.38" fill="none" stroke="#e8b71d" stroke-width="1.50" stroke-linejoin="round"/>
<rect x="39.50" y="476.98" width="110.95" height="73.10" fill="none" stroke="#333333" stroke-width="1.00"/>
<text x="32.90" y="484.22" font-family='"Liberation Sans", sans-serif' font-size="10.40" text-anchor="end" fill="#1e1e1e" textLength="6.16" lengthAdjust="spacingAndGlyphs" stroke="#1e1e1e" stroke-width="0.25" stroke-linejoin="round">2</text>
<text x="32.90" y="529.52" font-family='"Liberation Sans", sans-serif' font-size="10.40" text-anchor="end" fill="#1e1e1e" textLength="6.16" lengthAdjust="spacingAndGlyphs" stroke="#1e1e1e" stroke-width="0.25" stroke-linejoin="round">0</text>
<text x="157.05" y="492.16" font-family='"Liberation Sans", sans-serif' font-size="10.40" text-anchor="start" fill="#1e1e1e" textLength="6.16" lengthAdjust="spacingAndGlyphs" stroke="#1e1e1e" stroke-width="0.25" stroke-linejoin="round">1</text>
<text x="157.05" y="515.05" font-family='"Liberation Sans", sans-serif' font-size="10.40" text-anchor="start" fill="#1e1e1e" textLength="6.16" lengthAdjust="spacingAndGlyphs" stroke="#1e1e1e" stroke-width="0.25" stroke-linejoin="round">0</text>
<text x="157.05" y="537.93" font-family='"Liberation Sans", sans-serif' font-size="10.40" text-anchor="start" fill="#1e1e1e" textLength="14.54" lengthAdjust="spacingAndGlyphs" stroke="#1e1e1e" stroke-width="0.25" stroke-linejoin="round">−1</text>
<path d="M44.54,550.08v3.50M58.95,550.08v3.50M73.36,550.08v3.50M87.77,550.08v3.50M102.18,550.08v3.50M116.59,550.08v3.50M131.00,550.08v3.50M145.41,550.08v3.50M39.50,480.27h-3.50M39.50,525.57h-3.50M150.45,488.21h3.50M150.45,511.10h3.50M150.45,533.98h3.50" stroke="#333333" stroke-width="1.00" fill="none"/>
<text x="94.97" y="471.78" font-family='"Liberation Sans", sans-serif' font-size="10.92" font-weight="bold" text-anchor="middle" fill="#1e1e1e" textLength="62.88" lengthAdjust="spacingAndGlyphs" stroke="#1e1e1e" stroke-width="0.30" stroke-linejoin="round">2016/2017</text>
<g transform="translate(44.04,565.77) rotate(-45)">
<text x="0.00" y="3.65" font-family='"Liberation Sans", sans-serif' font-size="10.40" text-anchor="middle" fill="#1e1e1e" textLength="16.69" lengthAdjust="spacingAndGlyphs" stroke="#1e1e1e" stroke-width="0.25" stroke-linejoin="round">Oct</text>
</g>
<g transform="translate(58.45,566.56) rotate(-45)">
<text x="0.00" y="3.65" font-family='"Liberation Sans", sans-serif' font-size="10.40" text-anchor="middle" fill="#1e1e1e" textLength="18.92" lengthAdjust="spacingAndGlyphs" stroke="#1e1e1e" stroke-width="0.25" stroke-linejoin="round">Nov</text>
</g>
<g transform="translate(72.86,566.50) rotate(-45)">
<text x="0.00" y="3.65" font-family='"Liberation Sans", sans-serif' font-size="10.40" text-anchor="middle" fill="#1e1e1e" textLength="18.75" lengthAdjust="spacingAndGlyphs" stroke="#1e1e1e" stroke-width="0.25" stroke-linejoin="round">Dec</text>
</g>
<g transform="translate(87.27,565.11) rotate(-45)">
<text x="0.00" y="3.65" font-family='"Liberation Sans", sans-serif' font-size="10.40" text-anchor="middle" fill="#1e1e1e" textLength="14.82" lengthAdjust="spacingAndGlyphs" stroke="#1e1e1e" stroke-width="0.25" stroke-linejoin="round">Jan</text>
</g>
<g transform="translate(101.68,565.92) rotate(-45)">
<text x="0.00" y="3.65" font-family='"Liberation Sans", sans-serif' font-size="10.40" text-anchor="middle" fill="#1e1e1e" textLength="17.11" lengthAdjust="spacingAndGlyphs" stroke="#1e1e1e" stroke-width="0.25" stroke-linejoin="round">Feb</text>
</g>
<g transform="translate(116.09,566.33) rotate(-45)">
<text x="0.00" y="3.65" font-family='"Liberation Sans", sans-serif' font-size="10.40" text-anchor="middle" fill="#1e1e1e" textLength="18.27" lengthAdjust="spacingAndGlyphs" stroke="#1e1e1e" stroke-width="0.25" stroke-linejoin="round">Mar</text>
</g>
<g transform="translate(130.50,565.78) rotate(-45)">
<text x="0.00" y="3.65" font-family='"Liberation Sans", sans-serif' font-size="10.40" text-anchor="middle" fill="#1e1e1e" textLength="16.70" lengthAdjust="spacingAndGlyphs" stroke="#1e1e1e" stroke-width="0.25" stroke-linejoin="round">Apr</text>
</g>
<g transform="translate(144.91,566.97) rotate(-45)">
<text x="0.00" y="3.65" font-family='"Liberation Sans", sans-serif' font-size="10.40" text-anchor="middle" fill="#1e1e1e" textLength="20.07" lengthAdjust="spacingAndGlyphs" stroke="#1e1e1e" stroke-width="0.25" stroke-linejoin="round">May</text>
</g>
<polygon points="209.71,543.89 224.12,543.89 238.53,542.72 252.94,539.91 267.35,530.10 281.76,500.66 296.17,483.84 310.58,480.10 310.58,483.25 296.17,486.98 281.76,503.78 267.35,533.19 252.94,542.99 238.53,545.79 224.12,546.96 209.71,546.96" fill="#c9ecf8" stroke="#b6e5f5" stroke-width="0.7" stroke-linejoin="round"/>
<polyline points="209.71,545.42 224.12,545.42 238.53,544.25 252.94,541.45 267.35,531.64 281.76,502.22 296.17,485.41 310.58,481.68" fill="none" stroke="#1f80e0" stroke-width="1.50" stroke-dasharray="5.2,2.0" stroke-linejoin="round"/>
<polyline points="209.71,546.76 224.12,546.52 238.53,545.82 252.94,543.95 267.35,532.25 281.76,480.30 296.17,512.59 310.58,516.34" fill="none" stroke="#e8b71d" stroke-width="1.50" stroke-linejoin="round"/>
<rect x="204.67" y="476.98" width="110.95" height="73.10" fill="none" stroke="#333333" stroke-width="1.00"/>
<text x="198.07" y="498.70" font-family='"Liberation Sans", sans-serif' font-size="10.40" text-anchor="end" fill="#1e1e1e" textLength="6.16" lengthAdjust="spacingAndGlyphs" stroke="#1e1e1e" stroke-width="0.25" stroke-linejoin="round">1</text>
<text x="198.07" y="526.25" font-family='"Liberation Sans", sans-serif' font-size="10.40" text-anchor="end" fill="#1e1e1e" textLength="6.16" lengthAdjust="spacingAndGlyphs" stroke="#1e1e1e" stroke-width="0.25" stroke-linejoin="round">0</text>
<text x="322.22" y="485.16" font-family='"Liberation Sans", sans-serif' font-size="10.40" text-anchor="start" fill="#1e1e1e" textLength="6.16" lengthAdjust="spacingAndGlyphs" stroke="#1e1e1e" stroke-width="0.25" stroke-linejoin="round">2</text>
<text x="322.22" y="532.33" font-family='"Liberation Sans", sans-serif' font-size="10.40" text-anchor="start" fill="#1e1e1e" textLength="6.16" lengthAdjust="spacingAndGlyphs" stroke="#1e1e1e" stroke-width="0.25" stroke-linejoin="round">0</text>
<path d="M209.71,550.08v3.50M224.12,550.08v3.50M238.53,550.08v3.50M252.94,550.08v3.50M267.35,550.08v3.50M281.76,550.08v3.50M296.17,550.08v3.50M310.58,550.08v3.50M204.67,494.75h-3.50M204.67,522.30h-3.50M315.62,481.21h3.50M315.62,528.38h3.50" stroke="#333333" stroke-width="1.00" fill="none"/>
<text x="260.14" y="471.78" font-family='"Liberation Sans", sans-serif' font-size="10.92" font-weight="bold" text-anchor="middle" fill="#1e1e1e" textLength="62.88" lengthAdjust="spacingAndGlyphs" stroke="#1e1e1e" stroke-width="0.30" stroke-linejoin="round">2017/2018</text>
<g transform="translate(209.21,565.77) rotate(-45)">
<text x="0.00" y="3.65" font-family='"Liberation Sans", sans-serif' font-size="10.40" text-anchor="middle" fill="#1e1e1e" textLength="16.69" lengthAdjust="spacingAndGlyphs" stroke="#1e1e1e" stroke-width="0.25" stroke-linejoin="round">Oct</text>
</g>
<g transform="translate(223.62,566.56) rotate(-45)">
<text x="0.00" y="3.65" font-family='"Liberation Sans", sans-serif' font-size="10.40" text-anchor="middle" fill="#1e1e1e" textLength="18.92" lengthAdjust="spacingAndGlyphs" stroke="#1e1e1e" stroke-width="0.25" stroke-linejoin="round">Nov</text>
</g>
<g transform="translate(238.03,566.50) rotate(-45)">
<text x="0.00" y="3.65" font-family='"Liberation Sans", sans-serif' font-size="10.40" text-anchor="middle" fill="#1e1e1e" textLength="18.75" lengthAdjust="spacingAndGlyphs" stroke="#1e1e1e" stroke-width="0.25" stroke-linejoin="round">Dec</text>
</g>
<g transform="translate(252.44,565.11) rotate(-45)">
<text x="0.00" y="3.65" font-family='"Liberation Sans", sans-serif' font-size="10.40" text-anchor="middle" fill="#1e1e1e" textLength="14.82" lengthAdjust="spacingAndGlyphs" stroke="#1e1e1e" stroke-width="0.25" stroke-linejoin="round">Jan</text>
</g>
<g transform="translate(266.85,565.92) rotate(-45)">
<text x="0.00" y="3.65" font-family='"Liberation Sans", sans-serif' font-size="10.40" text-anchor="middle" fill="#1e1e1e" textLength="17.11" lengthAdjust="spacingAndGlyphs" stroke="#1e1e1e" stroke-width="0.25" stroke-linejoin="round">Feb</text>
</g>
<g transform="translate(281.26,566.33) rotate(-45)">
<text x="0.00" y="3.65" font-family='"Liberation Sans", sans-serif' font-size="10.40" text-anchor="middle" fill="#1e1e1e" textLength="18.27" lengthAdjust="spacingAndGlyphs" stroke="#1e1e1e" stroke-width="0.25" stroke-linejoin="round">Mar</text>
</g>
<g transform="translate(295.67,565.78) rotate(-45)">
<text x="0.00" y="3.65" font-family='"Liberation Sans", sans-serif' font-size="10.40" text-anchor="middle" fill="#1e1e1e" textLength="16.70" lengthAdjust="spacingAndGlyphs" stroke="#1e1e1e" stroke-width="0.25" stroke-linejoin="round">Apr</text>
</g>
<g transform="translate(310.08,566.97) rotate(-45)">
<text x="0.00" y="3.65" font-family='"Liberation Sans", sans-serif' font-size="10.40" text-anchor="middle" fill="#1e1e1e" textLength="20.07" lengthAdjust="spacingAndGlyphs" stroke="#1e1e1e" stroke-width="0.25" stroke-linejoin="round">May</text>
</g>
<polygon points="374.88,544.92 389.29,527.64 403.70,538.85 418.11,543.05 432.52,540.25 446.93,536.52 461.34,508.50 475.75,480.01 475.75,482.41 461.34,510.90 446.93,538.92 432.52,542.65 418.11,545.45 403.70,541.25 389.29,530.04 374.88,547.32" fill="#c9ecf8" stroke="#b6e5f5" stroke-width="0.7" stroke-linejoin="round"/>
<polyline points="374.88,546.12 389.29,528.84 403.70,540.05 418.11,544.25 432.52,541.45 446.93,537.72 461.34,509.70 475.75,481.21" fill="none" stroke="#1f80e0" stroke-width="1.50" stroke-dasharray="5.2,2.0" stroke-linejoin="round"/>
<polyline points="374.88,518.87 389.29,480.30 403.70,525.38 418.11,540.95 432.52,546.76 446.93,545.83 461.34,514.23 475.75,524.45" fill="none" stroke="#e8b71d" stroke-width="1.50" stroke-linejoin="round"/>
<rect x="369.84" y="476.98" width="110.95" height="73.10" fill="none" stroke="#333333" stroke-width="1.00"/>
<text x="363.24" y="489.36" font-family='"Liberation Sans", sans-serif' font-size="10.40" text-anchor="end" fill="#1e1e1e" textLength="6.16" lengthAdjust="spacingAndGlyphs" stroke="#1e1e1e" stroke-width="0.25" stroke-linejoin="round">2</text>
<text x="363.24" y="532.79" font-family='"Liberation Sans", sans-serif' font-size="10.40" text-anchor="end" fill="#1e1e1e" textLength="6.16" lengthAdjust="spacingAndGlyphs" stroke="#1e1e1e" stroke-width="0.25" stroke-linejoin="round">0</text>
<text x="487.39" y="485.16" font-family='"Liberation Sans", sans-serif' font-size="10.40" text-anchor="start" fill="#1e1e1e" textLength="6.16" lengthAdjust="spacingAndGlyphs" stroke="#1e1e1e" stroke-width="0.25" stroke-linejoin="round">2</text>
<text x="487.39" y="528.12" font-family='"Liberation Sans", sans-serif' font-size="10.40" text-anchor="start" fill="#1e1e1e" textLength="6.16" lengthAdjust="spacingAndGlyphs" stroke="#1e1e1e" stroke-width="0.25" stroke-linejoin="round">0</text>
<path d="M374.88,550.08v3.50M389.29,550.08v3.50M403.70,550.08v3.50M418.11,550.08v3.50M432.52,550.08v3.50M446.93,550.08v3.50M461.34,550.08v3.50M475.75,550.08v3.50M369.84,485.41h-3.50M369.84,528.84h-3.50M480.79,481.21h3.50M480.79,524.17h3.50" stroke="#333333" stroke-width="1.00" fill="none"/>
<text x="425.31" y="471.78" font-family='"Liberation Sans", sans-serif' font-size="10.92" font-weight="bold" text-anchor="middle" fill="#1e1e1e" textLength="62.88" lengthAdjust="spacingAndGlyphs" stroke="#1e1e1e" stroke-width="0.30" stroke-linejoin="round">2018/2019</text>
<g transform="translate(374.38,565.77) rotate(-45)">
<text x="0.00" y="3.65" font-family='"Liberation Sans", sans-serif' font-size="10.40" text-anchor="middle" fill="#1e1e1e" textLength="16.69" lengthAdjust="spacingAndGlyphs" stroke="#1e1e1e" stroke-width="0.25" stroke-linejoin="round">Oct</text>
</g>
<g transform="translate(388.79,566.56) rotate(-45)">
<text x="0.00" y="3.65" font-family='"Liberation Sans", sans-serif' font-size="10.40" text-anchor="middle" fill="#1e1e1e" textLength="18.92" lengthAdjust="spacingAndGlyphs" stroke="#1e1e1e" stroke-width="0.25" stroke-linejoin="round">Nov</text>
</g>
<g transform="translate(403.20,566.50) rotate(-45)">
<text x="0.00" y="3.65" font-family='"Liberation Sans", sans-serif' font-size="10.40" text-anchor="middle" fill="#1e1e1e" textLength="18.75" lengthAdjust="spacingAndGlyphs" stroke="#1e1e1e" stroke-width="0.25" stroke-linejoin="round">Dec</text>
</g>
<g transform="translate(417.61,565.11) rotate(-45)">
<text x="0.00" y="3.65" font-family='"Liberation Sans", sans-serif' font-size="10.40" text-anchor="middle" fill="#1e1e1e" textLength="14.82" lengthAdjust="spacingAndGlyphs" stroke="#1e1e1e" stroke-width="0.25" stroke-linejoin="round">Jan</text>
</g>
<g transform="translate(432.02,565.92) rotate(-45)">
<text x="0.00" y="3.65" font-family='"Liberation Sans", sans-serif' font-size="10.40" text-anchor="middle" fill="#1e1e1e" textLength="17.11" lengthAdjust="spacingAndGlyphs" stroke="#1e1e1e" stroke-width="0.25" stroke-linejoin="round">Feb</text>
</g>
<g transform="translate(446.43,566.33) rotate(-45)">
<text x="0.00" y="3.65" font-family='"Liberation Sans", sans-serif' font-size="10.40" text-anchor="middle" fill="#1e1e1e" textLength="18.27" lengthAdjust="spacingAndGlyphs" stroke="#1e1e1e" stroke-width="0.25" stroke-linejoin="round">Mar</text>
</g>
<g transform="translate(460.84,565.78) rotate(-45)">
<text x="0.00" y="3.65" font-family='"Liberation Sans", sans-serif' font-size="10.40" text-anchor="middle" fill="#1e1e1e" textLength="16.70" lengthAdjust="spacingAndGlyphs" stroke="#1e1e1e" stroke-width="0.25" stroke-linejoin="round">Apr</text>
</g>
<g transform="translate(475.25,566.97) rotate(-45)">
<text x="0.00" y="3.65" font-family='"Liberation Sans", sans-serif' font-size="10.40" text-anchor="middle" fill="#1e1e1e" textLength="20.07" lengthAdjust="spacingAndGlyphs" stroke="#1e1e1e" stroke-width="0.25" stroke-linejoin="round">May</text>
</g>
<polygon points="35.65,740.32 50.37,742.47 65.09,744.86 79.81,733.40 94.54,730.54 109.26,678.52 123.98,705.48 138.70,731.73 138.70,734.70 123.98,709.57 109.26,683.77 94.54,733.55 79.81,736.29 65.09,747.26 50.37,744.97 35.65,742.92" fill="#c9ecf8" stroke="#b6e5f5" stroke-width="0.7" stroke-linejoin="round"/>
<polyline points="35.65,741.62 50.37,743.72 65.09,746.06 79.81,734.85 94.54,732.05 109.26,681.14 123.98,707.53 138.70,733.21" fill="none" stroke="#1f80e0" stroke-width="1.50" stroke-dasharray="5.2,2.0" stroke-linejoin="round"/>
<polyline points="35.65,746.10 50.37,747.03 65.09,744.71 79.81,722.87 94.54,718.22 109.26,678.72 123.98,707.07 138.70,713.11" fill="none" stroke="#e8b71d" stroke-width="1.50" stroke-linejoin="round"/>
<rect x="30.50" y="675.30" width="113.35" height="75.15" fill="none" stroke="#333333" stroke-width="1.00"/>
<text x="23.90" y="686.96" font-family='"Liberation Sans", sans-serif' font-size="10.40" text-anchor="end" fill="#1e1e1e" textLength="6.16" lengthAdjust="spacingAndGlyphs" stroke="#1e1e1e" stroke-width="0.25" stroke-linejoin="round">2</text>
<text x="23.90" y="730.86" font-family='"Liberation Sans", sans-serif' font-size="10.40" text-anchor="end" fill="#1e1e1e" textLength="6.16" lengthAdjust="spacingAndGlyphs" stroke="#1e1e1e" stroke-width="0.25" stroke-linejoin="round">0</text>
<text x="150.45" y="702.37" font-family='"Liberation Sans", sans-serif' font-size="10.40" text-anchor="start" fill="#1e1e1e" textLength="6.16" lengthAdjust="spacingAndGlyphs" stroke="#1e1e1e" stroke-width="0.25" stroke-linejoin="round">1</text>
<text x="150.45" y="726.19" font-family='"Liberation Sans", sans-serif' font-size="10.40" text-anchor="start" fill="#1e1e1e" textLength="6.16" lengthAdjust="spacingAndGlyphs" stroke="#1e1e1e" stroke-width="0.25" stroke-linejoin="round">0</text>
<text x="150.45" y="750.01" font-family='"Liberation Sans", sans-serif' font-size="10.40" text-anchor="start" fill="#1e1e1e" textLength="14.54" lengthAdjust="spacingAndGlyphs" stroke="#1e1e1e" stroke-width="0.25" stroke-linejoin="round">−1</text>
<path d="M35.65,750.45v3.50M50.37,750.45v3.50M65.09,750.45v3.50M79.81,750.45v3.50M94.54,750.45v3.50M109.26,750.45v3.50M123.98,750.45v3.50M138.70,750.45v3.50M30.50,683.01h-3.50M30.50,726.91h-3.50M143.85,698.42h3.50M143.85,722.24h3.50M143.85,746.06h3.50" stroke="#333333" stroke-width="1.00" fill="none"/>
<text x="87.17" y="670.10" font-family='"Liberation Sans", sans-serif' font-size="10.92" font-weight="bold" text-anchor="middle" fill="#1e1e1e" textLength="62.88" lengthAdjust="spacingAndGlyphs" stroke="#1e1e1e" stroke-width="0.30" stroke-linejoin="round">2000/2001</text>
<polygon points="203.02,744.86 217.74,722.44 232.46,738.32 247.18,738.32 261.91,731.31 276.63,705.63 291.35,729.91 306.07,678.31 306.07,680.71 291.35,732.31 276.63,708.03 261.91,733.71 247.18,740.72 232.46,740.72 217.74,724.84 203.02,747.26" fill="#c9ecf8" stroke="#b6e5f5" stroke-width="0.7" stroke-linejoin="round"/>
<polyline points="203.02,746.06 217.74,723.64 232.46,739.52 247.18,739.52 261.91,732.51 276.63,706.83 291.35,731.11 306.07,679.51" fill="none" stroke="#1f80e0" stroke-width="1.50" stroke-dasharray="5.2,2.0" stroke-linejoin="round"/>
<polyline points="203.02,747.03 217.74,745.87 232.46,742.39 247.18,743.78 261.91,746.34 276.63,734.95 291.35,678.72 306.07,691.50" fill="none" stroke="#e8b71d" stroke-width="1.50" stroke-linejoin="round"/>
<rect x="197.87" y="675.30" width="113.35" height="75.15" fill="none" stroke="#333333" stroke-width="1.00"/>
<text x="191.27" y="686.49" font-family='"Liberation Sans", sans-serif' font-size="10.40" text-anchor="end" fill="#1e1e1e" textLength="6.16" lengthAdjust="spacingAndGlyphs" stroke="#1e1e1e" stroke-width="0.25" stroke-linejoin="round">2</text>
<text x="191.27" y="728.99" font-family='"Liberation Sans", sans-serif' font-size="10.40" text-anchor="end" fill="#1e1e1e" textLength="6.16" lengthAdjust="spacingAndGlyphs" stroke="#1e1e1e" stroke-width="0.25" stroke-linejoin="round">0</text>
<text x="317.82" y="705.64" font-family='"Liberation Sans", sans-serif' font-size="10.40" text-anchor="start" fill="#1e1e1e" textLength="6.16" lengthAdjust="spacingAndGlyphs" stroke="#1e1e1e" stroke-width="0.25" stroke-linejoin="round">1</text>
<text x="317.82" y="732.73" font-family='"Liberation Sans", sans-serif' font-size="10.40" text-anchor="start" fill="#1e1e1e" textLength="6.16" lengthAdjust="spacingAndGlyphs" stroke="#1e1e1e" stroke-width="0.25" stroke-linejoin="round">0</text>
<path d="M203.02,750.45v3.50M217.74,750.45v3.50M232.46,750.45v3.50M247.18,750.45v3.50M261.91,750.45v3.50M276.63,750.45v3.50M291.35,750.45v3.50M306.07,750.45v3.50M197.87,682.54h-3.50M197.87,725.04h-3.50M311.22,701.69h3.50M311.22,728.78h3.50" stroke="#333333" stroke-width="1.00" fill="none"/>
<text x="254.55" y="670.10" font-family='"Liberation Sans", sans-serif' font-size="10.92" font-weight="bold" text-anchor="middle" fill="#1e1e1e" textLength="62.88" lengthAdjust="spacingAndGlyphs" stroke="#1e1e1e" stroke-width="0.30" stroke-linejoin="round">2001/2002</text>
<polygon points="370.39,744.86 385.11,739.72 399.83,735.51 414.55,727.57 429.28,734.11 444.00,707.01 458.72,678.52 473.44,711.69 473.44,714.11 458.72,680.97 444.00,709.44 429.28,736.52 414.55,729.98 399.83,737.92 385.11,742.12 370.39,747.26" fill="#c9ecf8" stroke="#b6e5f5" stroke-width="0.7" stroke-linejoin="round"/>
<polyline points="370.39,746.06 385.11,740.92 399.83,736.72 414.55,728.78 429.28,735.31 444.00,708.23 458.72,679.74 473.44,712.90" fill="none" stroke="#1f80e0" stroke-width="1.50" stroke-dasharray="5.2,2.0" stroke-linejoin="round"/>
<polyline points="370.39,747.03 385.11,726.59 399.83,721.01 414.55,721.94 429.28,723.33 444.00,678.72 458.72,691.26 473.44,714.97" fill="none" stroke="#e8b71d" stroke-width="1.50" stroke-linejoin="round"/>
<rect x="365.24" y="675.30" width="113.35" height="75.15" fill="none" stroke="#333333" stroke-width="1.00"/>
<text x="358.64" y="685.09" font-family='"Liberation Sans", sans-serif' font-size="10.40" text-anchor="end" fill="#1e1e1e" textLength="6.16" lengthAdjust="spacingAndGlyphs" stroke="#1e1e1e" stroke-width="0.25" stroke-linejoin="round">2</text>
<text x="358.64" y="728.06" font-family='"Liberation Sans", sans-serif' font-size="10.40" text-anchor="end" fill="#1e1e1e" textLength="6.16" lengthAdjust="spacingAndGlyphs" stroke="#1e1e1e" stroke-width="0.25" stroke-linejoin="round">0</text>
<text x="485.19" y="698.56" font-family='"Liberation Sans", sans-serif' font-size="10.40" text-anchor="start" fill="#1e1e1e" textLength="6.16" lengthAdjust="spacingAndGlyphs" stroke="#1e1e1e" stroke-width="0.25" stroke-linejoin="round">1</text>
<text x="485.19" y="719.81" font-family='"Liberation Sans", sans-serif' font-size="10.40" text-anchor="start" fill="#1e1e1e" textLength="6.16" lengthAdjust="spacingAndGlyphs" stroke="#1e1e1e" stroke-width="0.25" stroke-linejoin="round">0</text>
<text x="485.19" y="741.05" font-family='"Liberation Sans", sans-serif' font-size="10.40" text-anchor="start" fill="#1e1e1e" textLength="14.54" lengthAdjust="spacingAndGlyphs" stroke="#1e1e1e" stroke-width="0.25" stroke-linejoin="round">−1</text>
<path d="M370.39,750.45v3.50M385.11,750.45v3.50M399.83,750.45v3.50M414.55,750.45v3.50M429.28,750.45v3.50M444.00,750.45v3.50M458.72,750.45v3.50M473.44,750.45v3.50M365.24,681.14h-3.50M365.24,724.11h-3.50M478.59,694.61h3.50M478.59,715.86h3.50M478.59,737.10h3.50" stroke="#333333" stroke-width="1.00" fill="none"/>
<text x="421.92" y="670.10" font-family='"Liberation Sans", sans-serif' font-size="10.92" font-weight="bold" text-anchor="middle" fill="#1e1e1e" textLength="62.88" lengthAdjust="spacingAndGlyphs" stroke="#1e1e1e" stroke-width="0.30" stroke-linejoin="round">2002/2003</text>
<polygon points="537.76,743.94 552.48,740.67 567.20,730.39 581.92,732.26 596.65,736.47 611.37,709.36 626.09,678.52 640.81,705.62 640.81,708.97 626.09,681.90 611.37,712.70 596.65,739.77 581.92,735.57 567.20,733.70 552.48,743.97 537.76,747.23" fill="#c9ecf8" stroke="#b6e5f5" stroke-width="0.7" stroke-linejoin="round"/>
<polyline points="537.76,745.59 552.48,742.32 567.20,732.05 581.92,733.91 596.65,738.12 611.37,711.03 626.09,680.21 640.81,707.29" fill="none" stroke="#1f80e0" stroke-width="1.50" stroke-dasharray="5.2,2.0" stroke-linejoin="round"/>
<polyline points="537.76,747.03 552.48,742.39 567.20,703.35 581.92,724.26 596.65,731.70 611.37,708.46 626.09,714.04 640.81,678.72" fill="none" stroke="#e8b71d" stroke-width="1.50" stroke-linejoin="round"/>
<rect x="532.61" y="675.30" width="113.35" height="75.15" fill="none" stroke="#333333" stroke-width="1.00"/>
<text x="526.01" y="684.16" font-family='"Liberation Sans", sans-serif' font-size="10.40" text-anchor="end" fill="#1e1e1e" textLength="6.16" lengthAdjust="spacingAndGlyphs" stroke="#1e1e1e" stroke-width="0.25" stroke-linejoin="round">2</text>
<text x="526.01" y="728.52" font-family='"Liberation Sans", sans-serif' font-size="10.40" text-anchor="end" fill="#1e1e1e" textLength="6.16" lengthAdjust="spacingAndGlyphs" stroke="#1e1e1e" stroke-width="0.25" stroke-linejoin="round">0</text>
<text x="652.56" y="699.96" font-family='"Liberation Sans", sans-serif' font-size="10.40" text-anchor="start" fill="#1e1e1e" textLength="6.16" lengthAdjust="spacingAndGlyphs" stroke="#1e1e1e" stroke-width="0.25" stroke-linejoin="round">1</text>
<text x="652.56" y="722.61" font-family='"Liberation Sans", sans-serif' font-size="10.40" text-anchor="start" fill="#1e1e1e" textLength="6.16" lengthAdjust="spacingAndGlyphs" stroke="#1e1e1e" stroke-width="0.25" stroke-linejoin="round">0</text>
<text x="652.56" y="745.26" font-family='"Liberation Sans", sans-serif' font-size="10.40" text-anchor="start" fill="#1e1e1e" textLength="14.54" lengthAdjust="spacingAndGlyphs" stroke="#1e1e1e" stroke-width="0.25" stroke-linejoin="round">−1</text>
<path d="M537.76,750.45v3.50M552.48,750.45v3.50M567.20,750.45v3.50M581.92,750.45v3.50M596.65,750.45v3.50M611.37,750.45v3.50M626.09,750.45v3.50M640.81,750.45v3.50M532.61,680.21h-3.50M532.61,724.57h-3.50M645.96,696.01h3.50M645.96,718.66h3.50M645.96,741.31h3.50" stroke="#333333" stroke-width="1.00" fill="none"/>
<text x="589.28" y="670.10" font-family='"Liberation Sans", sans-serif' font-size="10.92" font-weight="bold" text-anchor="middle" fill="#1e1e1e" textLength="62.88" lengthAdjust="spacingAndGlyphs" stroke="#1e1e1e" stroke-width="0.30" stroke-linejoin="round">2003/2004</text>
<polygon points="35.65,847.86 50.37,846.44 65.09,845.03 79.81,834.62 94.54,839.35 109.26,782.60 123.98,804.59 138.70,836.99 138.70,840.71 123.98,809.13 109.26,787.69 94.54,843.02 79.81,838.40 65.09,848.55 50.37,849.93 35.65,851.31" fill="#c9ecf8" stroke="#b6e5f5" stroke-width="0.7" stroke-linejoin="round"/>
<polyline points="35.65,849.59 50.37,848.19 65.09,846.79 79.81,836.51 94.54,841.18 109.26,785.14 123.98,806.86 138.70,838.85" fill="none" stroke="#1f80e0" stroke-width="1.50" stroke-dasharray="5.2,2.0" stroke-linejoin="round"/>
<polyline points="35.65,851.11 50.37,849.02 65.09,848.33 79.81,847.86 94.54,850.18 109.26,782.80 123.98,814.17 138.70,832.99" fill="none" stroke="#e8b71d" stroke-width="1.50" stroke-linejoin="round"/>
<rect x="30.50" y="779.38" width="113.35" height="75.15" fill="none" stroke="#333333" stroke-width="1.00"/>
<text x="23.90" y="790.03" font-family='"Liberation Sans", sans-serif' font-size="10.40" text-anchor="end" fill="#1e1e1e" textLength="6.16" lengthAdjust="spacingAndGlyphs" stroke="#1e1e1e" stroke-width="0.25" stroke-linejoin="round">2</text>
<text x="23.90" y="835.79" font-family='"Liberation Sans", sans-serif' font-size="10.40" text-anchor="end" fill="#1e1e1e" textLength="6.16" lengthAdjust="spacingAndGlyphs" stroke="#1e1e1e" stroke-width="0.25" stroke-linejoin="round">0</text>
<text x="150.45" y="790.03" font-family='"Liberation Sans", sans-serif' font-size="10.40" text-anchor="start" fill="#1e1e1e" textLength="6.16" lengthAdjust="spacingAndGlyphs" stroke="#1e1e1e" stroke-width="0.25" stroke-linejoin="round">2</text>
<text x="150.45" y="838.59" font-family='"Liberation Sans", sans-serif' font-size="10.40" text-anchor="start" fill="#1e1e1e" textLength="6.16" lengthAdjust="spacingAndGlyphs" stroke="#1e1e1e" stroke-width="0.25" stroke-linejoin="round">0</text>
<path d="M35.65,854.53v3.50M50.37,854.53v3.50M65.09,854.53v3.50M79.81,854.53v3.50M94.54,854.53v3.50M109.26,854.53v3.50M123.98,854.53v3.50M138.70,854.53v3.50M30.50,786.08h-3.50M30.50,831.84h-3.50M143.85,786.08h3.50M143.85,834.64h3.50" stroke="#333333" stroke-width="1.00" fill="none"/>
<text x="87.17" y="774.18" font-family='"Liberation Sans", sans-serif' font-size="10.92" font-weight="bold" text-anchor="middle" fill="#1e1e1e" textLength="62.88" lengthAdjust="spacingAndGlyphs" stroke="#1e1e1e" stroke-width="0.30" stroke-linejoin="round">2004/2005</text>
<polygon points="203.02,849.32 217.74,848.84 232.46,848.36 247.18,848.12 261.91,840.68 276.63,782.84 291.35,809.24 306.07,831.56 306.07,834.92 291.35,813.81 276.63,788.84 261.91,843.55 247.18,850.59 232.46,850.81 217.74,851.27 203.02,851.72" fill="#c9ecf8" stroke="#b6e5f5" stroke-width="0.7" stroke-linejoin="round"/>
<polyline points="203.02,850.52 217.74,850.06 232.46,849.59 247.18,849.36 261.91,842.12 276.63,785.84 291.35,811.53 306.07,833.24" fill="none" stroke="#1f80e0" stroke-width="1.50" stroke-dasharray="5.2,2.0" stroke-linejoin="round"/>
<polyline points="203.02,849.72 217.74,851.11 232.46,850.88 247.18,850.42 261.91,846.00 276.63,782.80 291.35,810.68 306.07,835.31" fill="none" stroke="#e8b71d" stroke-width="1.50" stroke-linejoin="round"/>
<rect x="197.87" y="779.38" width="113.35" height="75.15" fill="none" stroke="#333333" stroke-width="1.00"/>
<text x="191.27" y="790.96" font-family='"Liberation Sans", sans-serif' font-size="10.40" text-anchor="end" fill="#1e1e1e" textLength="6.16" lengthAdjust="spacingAndGlyphs" stroke="#1e1e1e" stroke-width="0.25" stroke-linejoin="round">2</text>
<text x="191.27" y="838.13" font-family='"Liberation Sans", sans-serif' font-size="10.40" text-anchor="end" fill="#1e1e1e" textLength="6.16" lengthAdjust="spacingAndGlyphs" stroke="#1e1e1e" stroke-width="0.25" stroke-linejoin="round">0</text>
<text x="317.82" y="789.09" font-family='"Liberation Sans", sans-serif' font-size="10.40" text-anchor="start" fill="#1e1e1e" textLength="6.16" lengthAdjust="spacingAndGlyphs" stroke="#1e1e1e" stroke-width="0.25" stroke-linejoin="round">2</text>
<text x="317.82" y="838.59" font-family='"Liberation Sans", sans-serif' font-size="10.40" text-anchor="start" fill="#1e1e1e" textLength="6.16" lengthAdjust="spacingAndGlyphs" stroke="#1e1e1e" stroke-width="0.25" stroke-linejoin="round">0</text>
<path d="M203.02,854.53v3.50M217.74,854.53v3.50M232.46,854.53v3.50M247.18,854.53v3.50M261.91,854.53v3.50M276.63,854.53v3.50M291.35,854.53v3.50M306.07,854.53v3.50M197.87,787.01h-3.50M197.87,834.18h-3.50M311.22,785.14h3.50M311.22,834.64h3.50" stroke="#333333" stroke-width="1.00" fill="none"/>
<text x="254.55" y="774.18" font-family='"Liberation Sans", sans-serif' font-size="10.92" font-weight="bold" text-anchor="middle" fill="#1e1e1e" textLength="62.88" lengthAdjust="spacingAndGlyphs" stroke="#1e1e1e" stroke-width="0.30" stroke-linejoin="round">2005/2006</text>
<polygon points="370.39,847.86 385.11,845.08 399.83,843.23 414.55,798.29 429.28,804.78 444.00,820.53 458.72,823.31 473.44,782.31 473.44,784.71 458.72,826.37 444.00,823.54 429.28,807.54 414.55,800.95 399.83,846.61 385.11,848.49 370.39,851.31" fill="#c9ecf8" stroke="#b6e5f5" stroke-width="0.7" stroke-linejoin="round"/>
<polyline points="370.39,849.59 385.11,846.79 399.83,844.92 414.55,799.62 429.28,806.16 444.00,822.04 458.72,824.84 473.44,783.51" fill="none" stroke="#1f80e0" stroke-width="1.50" stroke-dasharray="5.2,2.0" stroke-linejoin="round"/>
<polyline points="370.39,782.80 385.11,807.20 399.83,849.02 414.55,838.57 429.28,846.47 444.00,851.11 458.72,802.32 473.44,827.88" fill="none" stroke="#e8b71d" stroke-width="1.50" stroke-linejoin="round"/>
<rect x="365.24" y="779.38" width="113.35" height="75.15" fill="none" stroke="#333333" stroke-width="1.00"/>
<text x="358.64" y="802.17" font-family='"Liberation Sans", sans-serif' font-size="10.40" text-anchor="end" fill="#1e1e1e" textLength="6.16" lengthAdjust="spacingAndGlyphs" stroke="#1e1e1e" stroke-width="0.25" stroke-linejoin="round">1</text>
<text x="358.64" y="826.45" font-family='"Liberation Sans", sans-serif' font-size="10.40" text-anchor="end" fill="#1e1e1e" textLength="6.16" lengthAdjust="spacingAndGlyphs" stroke="#1e1e1e" stroke-width="0.25" stroke-linejoin="round">0</text>
<text x="358.64" y="850.74" font-family='"Liberation Sans", sans-serif' font-size="10.40" text-anchor="end" fill="#1e1e1e" textLength="14.54" lengthAdjust="spacingAndGlyphs" stroke="#1e1e1e" stroke-width="0.25" stroke-linejoin="round">−1</text>
<text x="485.19" y="804.04" font-family='"Liberation Sans", sans-serif' font-size="10.40" text-anchor="start" fill="#1e1e1e" textLength="6.16" lengthAdjust="spacingAndGlyphs" stroke="#1e1e1e" stroke-width="0.25" stroke-linejoin="round">1</text>
<text x="485.19" y="829.72" font-family='"Liberation Sans", sans-serif' font-size="10.40" text-anchor="start" fill="#1e1e1e" textLength="6.16" lengthAdjust="spacingAndGlyphs" stroke="#1e1e1e" stroke-width="0.25" stroke-linejoin="round">0</text>
<text x="485.19" y="855.41" font-family='"Liberation Sans", sans-serif' font-size="10.40" text-anchor="start" fill="#1e1e1e" textLength="14.54" lengthAdjust="spacingAndGlyphs" stroke="#1e1e1e" stroke-width="0.25" stroke-linejoin="round">−1</text>
<path d="M370.39,854.53v3.50M385.11,854.53v3.50M399.83,854.53v3.50M414.55,854.53v3.50M429.28,854.53v3.50M444.00,854.53v3.50M458.72,854.53v3.50M473.44,854.53v3.50M365.24,798.22h-3.50M365.24,822.50h-3.50M365.24,846.79h-3.50M478.59,800.09h3.50M478.59,825.77h3.50M478.59,851.46h3.50" stroke="#333333" stroke-width="1.00" fill="none"/>
<text x="421.92" y="774.18" font-family='"Liberation Sans", sans-serif' font-size="10.92" font-weight="bold" text-anchor="middle" fill="#1e1e1e" textLength="62.88" lengthAdjust="spacingAndGlyphs" stroke="#1e1e1e" stroke-width="0.30" stroke-linejoin="round">2006/2007</text>
<polygon points="537.76,848.80 552.48,848.33 567.20,841.75 581.92,828.61 596.65,836.12 611.37,812.41 626.09,782.60 640.81,828.84 640.81,831.57 626.09,785.82 611.37,815.32 596.65,838.77 581.92,831.34 567.20,844.35 552.48,850.85 537.76,851.31" fill="#c9ecf8" stroke="#b6e5f5" stroke-width="0.7" stroke-linejoin="round"/>
<polyline points="537.76,850.06 552.48,849.59 567.20,843.05 581.92,829.97 596.65,837.45 611.37,813.86 626.09,784.21 640.81,830.21" fill="none" stroke="#1f80e0" stroke-width="1.50" stroke-dasharray="5.2,2.0" stroke-linejoin="round"/>
<polyline points="537.76,848.33 552.48,851.11 567.20,849.02 581.92,835.78 596.65,782.80 611.37,803.71 626.09,839.50 640.81,842.28" fill="none" stroke="#e8b71d" stroke-width="1.50" stroke-linejoin="round"/>
<rect x="532.61" y="779.38" width="113.35" height="75.15" fill="none" stroke="#333333" stroke-width="1.00"/>
<text x="526.01" y="790.96" font-family='"Liberation Sans", sans-serif' font-size="10.40" text-anchor="end" fill="#1e1e1e" textLength="6.16" lengthAdjust="spacingAndGlyphs" stroke="#1e1e1e" stroke-width="0.25" stroke-linejoin="round">2</text>
<text x="526.01" y="833.92" font-family='"Liberation Sans", sans-serif' font-size="10.40" text-anchor="end" fill="#1e1e1e" textLength="6.16" lengthAdjust="spacingAndGlyphs" stroke="#1e1e1e" stroke-width="0.25" stroke-linejoin="round">0</text>
<text x="652.56" y="785.82" font-family='"Liberation Sans", sans-serif' font-size="10.40" text-anchor="start" fill="#1e1e1e" textLength="6.16" lengthAdjust="spacingAndGlyphs" stroke="#1e1e1e" stroke-width="0.25" stroke-linejoin="round">2</text>
<text x="652.56" y="835.33" font-family='"Liberation Sans", sans-serif' font-size="10.40" text-anchor="start" fill="#1e1e1e" textLength="6.16" lengthAdjust="spacingAndGlyphs" stroke="#1e1e1e" stroke-width="0.25" stroke-linejoin="round">0</text>
<path d="M537.76,854.53v3.50M552.48,854.53v3.50M567.20,854.53v3.50M581.92,854.53v3.50M596.65,854.53v3.50M611.37,854.53v3.50M626.09,854.53v3.50M640.81,854.53v3.50M532.61,787.01h-3.50M532.61,829.97h-3.50M645.96,781.87h3.50M645.96,831.38h3.50" stroke="#333333" stroke-width="1.00" fill="none"/>
<text x="589.28" y="774.18" font-family='"Liberation Sans", sans-serif' font-size="10.92" font-weight="bold" text-anchor="middle" fill="#1e1e1e" textLength="62.88" lengthAdjust="spacingAndGlyphs" stroke="#1e1e1e" stroke-width="0.30" stroke-linejoin="round">2007/2008</text>
<polygon points="35.65,952.72 50.37,952.72 65.09,950.39 79.81,950.85 94.54,945.26 109.26,931.28 123.98,918.23 138.70,886.31 138.70,888.71 123.98,920.76 109.26,933.87 94.54,947.91 79.81,953.52 65.09,953.05 50.37,955.39 35.65,955.39" fill="#c9ecf8" stroke="#b6e5f5" stroke-width="0.7" stroke-linejoin="round"/>
<polyline points="35.65,954.06 50.37,954.06 65.09,951.72 79.81,952.19 94.54,946.58 109.26,932.57 123.98,919.50 138.70,887.51" fill="none" stroke="#1f80e0" stroke-width="1.50" stroke-dasharray="5.2,2.0" stroke-linejoin="round"/>
<polyline points="35.65,955.19 50.37,951.94 65.09,949.62 79.81,943.58 94.54,922.89 109.26,886.88 123.98,917.08 138.70,929.87" fill="none" stroke="#e8b71d" stroke-width="1.50" stroke-linejoin="round"/>
<rect x="30.50" y="883.46" width="113.35" height="75.15" fill="none" stroke="#333333" stroke-width="1.00"/>
<text x="23.90" y="895.89" font-family='"Liberation Sans", sans-serif' font-size="10.40" text-anchor="end" fill="#1e1e1e" textLength="6.16" lengthAdjust="spacingAndGlyphs" stroke="#1e1e1e" stroke-width="0.25" stroke-linejoin="round">2</text>
<text x="23.90" y="942.13" font-family='"Liberation Sans", sans-serif' font-size="10.40" text-anchor="end" fill="#1e1e1e" textLength="6.16" lengthAdjust="spacingAndGlyphs" stroke="#1e1e1e" stroke-width="0.25" stroke-linejoin="round">0</text>
<text x="150.45" y="889.82" font-family='"Liberation Sans", sans-serif' font-size="10.40" text-anchor="start" fill="#1e1e1e" textLength="6.16" lengthAdjust="spacingAndGlyphs" stroke="#1e1e1e" stroke-width="0.25" stroke-linejoin="round">2</text>
<text x="150.45" y="936.06" font-family='"Liberation Sans", sans-serif' font-size="10.40" text-anchor="start" fill="#1e1e1e" textLength="6.16" lengthAdjust="spacingAndGlyphs" stroke="#1e1e1e" stroke-width="0.25" stroke-linejoin="round">0</text>
<path d="M35.65,958.61v3.50M50.37,958.61v3.50M65.09,958.61v3.50M79.81,958.61v3.50M94.54,958.61v3.50M109.26,958.61v3.50M123.98,958.61v3.50M138.70,958.61v3.50M30.50,891.94h-3.50M30.50,938.18h-3.50M143.85,885.87h3.50M143.85,932.11h3.50" stroke="#333333" stroke-width="1.00" fill="none"/>
<text x="87.17" y="878.26" font-family='"Liberation Sans", sans-serif' font-size="10.92" font-weight="bold" text-anchor="middle" fill="#1e1e1e" textLength="62.88" lengthAdjust="spacingAndGlyphs" stroke="#1e1e1e" stroke-width="0.30" stroke-linejoin="round">2008/2009</text>
<polygon points="203.02,951.32 217.74,951.78 232.46,948.99 247.18,936.90 261.91,905.28 276.63,887.61 291.35,886.68 306.07,912.72 306.07,916.00 291.35,889.74 276.63,890.68 261.91,908.50 247.18,940.39 232.46,952.58 217.74,955.39 203.02,954.93" fill="#c9ecf8" stroke="#b6e5f5" stroke-width="0.7" stroke-linejoin="round"/>
<polyline points="203.02,953.12 217.74,953.59 232.46,950.79 247.18,938.64 261.91,906.89 276.63,889.14 291.35,888.21 306.07,914.36" fill="none" stroke="#1f80e0" stroke-width="1.50" stroke-dasharray="5.2,2.0" stroke-linejoin="round"/>
<polyline points="203.02,954.73 217.74,955.19 232.46,950.08 247.18,933.82 261.91,897.57 276.63,886.88 291.35,935.21 306.07,947.29" fill="none" stroke="#e8b71d" stroke-width="1.50" stroke-linejoin="round"/>
<rect x="197.87" y="883.46" width="113.35" height="75.15" fill="none" stroke="#333333" stroke-width="1.00"/>
<text x="191.27" y="901.03" font-family='"Liberation Sans", sans-serif' font-size="10.40" text-anchor="end" fill="#1e1e1e" textLength="6.16" lengthAdjust="spacingAndGlyphs" stroke="#1e1e1e" stroke-width="0.25" stroke-linejoin="round">1</text>
<text x="191.27" y="929.05" font-family='"Liberation Sans", sans-serif' font-size="10.40" text-anchor="end" fill="#1e1e1e" textLength="6.16" lengthAdjust="spacingAndGlyphs" stroke="#1e1e1e" stroke-width="0.25" stroke-linejoin="round">0</text>
<text x="191.27" y="957.07" font-family='"Liberation Sans", sans-serif' font-size="10.40" text-anchor="end" fill="#1e1e1e" textLength="14.54" lengthAdjust="spacingAndGlyphs" stroke="#1e1e1e" stroke-width="0.25" stroke-linejoin="round">−1</text>
<text x="317.82" y="910.37" font-family='"Liberation Sans", sans-serif' font-size="10.40" text-anchor="start" fill="#1e1e1e" textLength="6.16" lengthAdjust="spacingAndGlyphs" stroke="#1e1e1e" stroke-width="0.25" stroke-linejoin="round">1</text>
<text x="317.82" y="936.52" font-family='"Liberation Sans", sans-serif' font-size="10.40" text-anchor="start" fill="#1e1e1e" textLength="6.16" lengthAdjust="spacingAndGlyphs" stroke="#1e1e1e" stroke-width="0.25" stroke-linejoin="round">0</text>
<path d="M203.02,958.61v3.50M217.74,958.61v3.50M232.46,958.61v3.50M247.18,958.61v3.50M261.91,958.61v3.50M276.63,958.61v3.50M291.35,958.61v3.50M306.07,958.61v3.50M197.87,897.08h-3.50M197.87,925.10h-3.50M197.87,953.12h-3.50M311.22,906.42h3.50M311.22,932.57h3.50" stroke="#333333" stroke-width="1.00" fill="none"/>
<text x="254.55" y="878.26" font-family='"Liberation Sans", sans-serif' font-size="10.92" font-weight="bold" text-anchor="middle" fill="#1e1e1e" textLength="62.88" lengthAdjust="spacingAndGlyphs" stroke="#1e1e1e" stroke-width="0.30" stroke-linejoin="round">2009/2010</text>
<polygon points="370.39,948.99 385.11,951.78 399.83,950.39 414.55,951.78 429.28,924.35 444.00,909.93 458.72,886.68 473.44,910.39 473.44,913.66 458.72,889.74 444.00,913.19 429.28,927.73 414.55,955.39 399.83,953.99 385.11,955.39 370.39,952.58" fill="#c9ecf8" stroke="#b6e5f5" stroke-width="0.7" stroke-linejoin="round"/>
<polyline points="370.39,950.79 385.11,953.59 399.83,952.19 414.55,953.59 429.28,926.04 444.00,911.56 458.72,888.21 473.44,912.03" fill="none" stroke="#1f80e0" stroke-width="1.50" stroke-dasharray="5.2,2.0" stroke-linejoin="round"/>
<polyline points="370.39,948.22 385.11,955.19 399.83,938.93 414.55,944.97 429.28,943.11 444.00,920.80 458.72,939.86 473.44,886.88" fill="none" stroke="#e8b71d" stroke-width="1.50" stroke-linejoin="round"/>
<rect x="365.24" y="883.46" width="113.35" height="75.15" fill="none" stroke="#333333" stroke-width="1.00"/>
<text x="358.64" y="909.90" font-family='"Liberation Sans", sans-serif' font-size="10.40" text-anchor="end" fill="#1e1e1e" textLength="6.16" lengthAdjust="spacingAndGlyphs" stroke="#1e1e1e" stroke-width="0.25" stroke-linejoin="round">1</text>
<text x="358.64" y="935.12" font-family='"Liberation Sans", sans-serif' font-size="10.40" text-anchor="end" fill="#1e1e1e" textLength="6.16" lengthAdjust="spacingAndGlyphs" stroke="#1e1e1e" stroke-width="0.25" stroke-linejoin="round">0</text>
<text x="358.64" y="960.34" font-family='"Liberation Sans", sans-serif' font-size="10.40" text-anchor="end" fill="#1e1e1e" textLength="14.54" lengthAdjust="spacingAndGlyphs" stroke="#1e1e1e" stroke-width="0.25" stroke-linejoin="round">−1</text>
<text x="485.19" y="895.43" font-family='"Liberation Sans", sans-serif' font-size="10.40" text-anchor="start" fill="#1e1e1e" textLength="6.16" lengthAdjust="spacingAndGlyphs" stroke="#1e1e1e" stroke-width="0.25" stroke-linejoin="round">2</text>
<text x="485.19" y="938.39" font-family='"Liberation Sans", sans-serif' font-size="10.40" text-anchor="start" fill="#1e1e1e" textLength="6.16" lengthAdjust="spacingAndGlyphs" stroke="#1e1e1e" stroke-width="0.25" stroke-linejoin="round">0</text>
<path d="M370.39,958.61v3.50M385.11,958.61v3.50M399.83,958.61v3.50M414.55,958.61v3.50M429.28,958.61v3.50M444.00,958.61v3.50M458.72,958.61v3.50M473.44,958.61v3.50M365.24,905.95h-3.50M365.24,931.17h-3.50M365.24,956.39h-3.50M478.59,891.48h3.50M478.59,934.44h3.50" stroke="#333333" stroke-width="1.00" fill="none"/>
<text x="421.92" y="878.26" font-family='"Liberation Sans", sans-serif' font-size="10.92" font-weight="bold" text-anchor="middle" fill="#1e1e1e" textLength="62.88" lengthAdjust="spacingAndGlyphs" stroke="#1e1e1e" stroke-width="0.30" stroke-linejoin="round">2010/2011</text>
<polygon points="537.76,951.78 552.48,941.55 567.20,924.81 581.92,950.85 596.65,933.65 611.37,886.68 626.09,907.60 640.81,892.26 640.81,895.37 626.09,910.84 611.37,889.74 596.65,937.10 581.92,954.46 567.20,928.19 552.48,945.08 537.76,955.39" fill="#c9ecf8" stroke="#b6e5f5" stroke-width="0.7" stroke-linejoin="round"/>
<polyline points="537.76,953.59 552.48,943.31 567.20,926.50 581.92,952.65 596.65,935.38 611.37,888.21 626.09,909.22 640.81,893.81" fill="none" stroke="#1f80e0" stroke-width="1.50" stroke-dasharray="5.2,2.0" stroke-linejoin="round"/>
<polyline points="537.76,955.19 552.48,939.39 567.20,938.00 581.92,945.90 596.65,946.83 611.37,924.06 626.09,886.88 640.81,939.39" fill="none" stroke="#e8b71d" stroke-width="1.50" stroke-linejoin="round"/>
<rect x="532.61" y="883.46" width="113.35" height="75.15" fill="none" stroke="#333333" stroke-width="1.00"/>
<text x="526.01" y="904.22" font-family='"Liberation Sans", sans-serif' font-size="10.40" text-anchor="end" fill="#1e1e1e" textLength="6.16" lengthAdjust="spacingAndGlyphs" stroke="#1e1e1e" stroke-width="0.25" stroke-linejoin="round">1</text>
<text x="526.01" y="929.67" font-family='"Liberation Sans", sans-serif' font-size="10.40" text-anchor="end" fill="#1e1e1e" textLength="6.16" lengthAdjust="spacingAndGlyphs" stroke="#1e1e1e" stroke-width="0.25" stroke-linejoin="round">0</text>
<text x="526.01" y="955.13" font-family='"Liberation Sans", sans-serif' font-size="10.40" text-anchor="end" fill="#1e1e1e" textLength="14.54" lengthAdjust="spacingAndGlyphs" stroke="#1e1e1e" stroke-width="0.25" stroke-linejoin="round">−1</text>
<text x="652.56" y="895.89" font-family='"Liberation Sans", sans-serif' font-size="10.40" text-anchor="start" fill="#1e1e1e" textLength="6.16" lengthAdjust="spacingAndGlyphs" stroke="#1e1e1e" stroke-width="0.25" stroke-linejoin="round">2</text>
<text x="652.56" y="937.92" font-family='"Liberation Sans", sans-serif' font-size="10.40" text-anchor="start" fill="#1e1e1e" textLength="6.16" lengthAdjust="spacingAndGlyphs" stroke="#1e1e1e" stroke-width="0.25" stroke-linejoin="round">0</text>
<path d="M537.76,958.61v3.50M552.48,958.61v3.50M567.20,958.61v3.50M581.92,958.61v3.50M596.65,958.61v3.50M611.37,958.61v3.50M626.09,958.61v3.50M640.81,958.61v3.50M532.61,900.27h-3.50M532.61,925.72h-3.50M532.61,951.18h-3.50M645.96,891.94h3.50M645.96,933.97h3.50" stroke="#333333" stroke-width="1.00" fill="none"/>
<text x="589.28" y="878.26" font-family='"Liberation Sans", sans-serif' font-size="10.92" font-weight="bold" text-anchor="middle" fill="#1e1e1e" textLength="62.88" lengthAdjust="spacingAndGlyphs" stroke="#1e1e1e" stroke-width="0.30" stroke-linejoin="round">2011/2012</text>
<polygon points="35.65,1056.64 50.37,1051.03 65.09,1036.55 79.81,1050.10 94.54,1049.63 109.26,1030.47 123.98,990.76 138.70,1009.45 138.70,1012.33 123.98,993.66 109.26,1033.34 94.54,1052.47 79.81,1052.94 65.09,1039.40 50.37,1053.87 35.65,1059.47" fill="#c9ecf8" stroke="#b6e5f5" stroke-width="0.7" stroke-linejoin="round"/>
<polyline points="35.65,1058.06 50.37,1052.45 65.09,1037.97 79.81,1051.52 94.54,1051.05 109.26,1031.90 123.98,992.21 138.70,1010.89" fill="none" stroke="#1f80e0" stroke-width="1.50" stroke-dasharray="5.2,2.0" stroke-linejoin="round"/>
<polyline points="35.65,1059.27 50.37,990.96 65.09,1011.54 79.81,1032.13 94.54,1040.79 109.26,996.57 123.98,1003.59 138.70,1054.13" fill="none" stroke="#e8b71d" stroke-width="1.50" stroke-linejoin="round"/>
<rect x="30.50" y="987.54" width="113.35" height="75.15" fill="none" stroke="#333333" stroke-width="1.00"/>
<text x="23.90" y="994.29" font-family='"Liberation Sans", sans-serif' font-size="10.40" text-anchor="end" fill="#1e1e1e" textLength="6.16" lengthAdjust="spacingAndGlyphs" stroke="#1e1e1e" stroke-width="0.25" stroke-linejoin="round">2</text>
<text x="23.90" y="1040.06" font-family='"Liberation Sans", sans-serif' font-size="10.40" text-anchor="end" fill="#1e1e1e" textLength="6.16" lengthAdjust="spacingAndGlyphs" stroke="#1e1e1e" stroke-width="0.25" stroke-linejoin="round">0</text>
<text x="150.45" y="1000.83" font-family='"Liberation Sans", sans-serif' font-size="10.40" text-anchor="start" fill="#1e1e1e" textLength="6.16" lengthAdjust="spacingAndGlyphs" stroke="#1e1e1e" stroke-width="0.25" stroke-linejoin="round">1</text>
<text x="150.45" y="1027.45" font-family='"Liberation Sans", sans-serif' font-size="10.40" text-anchor="start" fill="#1e1e1e" textLength="6.16" lengthAdjust="spacingAndGlyphs" stroke="#1e1e1e" stroke-width="0.25" stroke-linejoin="round">0</text>
<text x="150.45" y="1054.07" font-family='"Liberation Sans", sans-serif' font-size="10.40" text-anchor="start" fill="#1e1e1e" textLength="14.54" lengthAdjust="spacingAndGlyphs" stroke="#1e1e1e" stroke-width="0.25" stroke-linejoin="round">−1</text>
<path d="M35.65,1062.69v3.50M50.37,1062.69v3.50M65.09,1062.69v3.50M79.81,1062.69v3.50M94.54,1062.69v3.50M109.26,1062.69v3.50M123.98,1062.69v3.50M138.70,1062.69v3.50M30.50,990.34h-3.50M30.50,1036.11h-3.50M143.85,996.88h3.50M143.85,1023.50h3.50M143.85,1050.12h3.50" stroke="#333333" stroke-width="1.00" fill="none"/>
<text x="87.17" y="982.34" font-family='"Liberation Sans", sans-serif' font-size="10.92" font-weight="bold" text-anchor="middle" fill="#1e1e1e" textLength="62.88" lengthAdjust="spacingAndGlyphs" stroke="#1e1e1e" stroke-width="0.30" stroke-linejoin="round">2012/2013</text>
<polygon points="203.02,1057.09 217.74,1056.85 232.46,1055.45 247.18,1053.57 261.91,1045.60 276.63,1039.04 291.35,990.76 306.07,1046.31 306.07,1048.79 291.35,993.66 276.63,1041.58 261.91,1048.09 247.18,1056.00 232.46,1057.86 217.74,1059.26 203.02,1059.49" fill="#c9ecf8" stroke="#b6e5f5" stroke-width="0.7" stroke-linejoin="round"/>
<polyline points="203.02,1058.29 217.74,1058.06 232.46,1056.65 247.18,1054.79 261.91,1046.85 276.63,1040.31 291.35,992.21 306.07,1047.55" fill="none" stroke="#1f80e0" stroke-width="1.50" stroke-dasharray="5.2,2.0" stroke-linejoin="round"/>
<polyline points="203.02,1059.27 217.74,1058.81 232.46,1057.65 247.18,1056.26 261.91,1009.02 276.63,990.96 291.35,998.37 306.07,1048.85" fill="none" stroke="#e8b71d" stroke-width="1.50" stroke-linejoin="round"/>
<rect x="197.87" y="987.54" width="113.35" height="75.15" fill="none" stroke="#333333" stroke-width="1.00"/>
<text x="191.27" y="1005.50" font-family='"Liberation Sans", sans-serif' font-size="10.40" text-anchor="end" fill="#1e1e1e" textLength="6.16" lengthAdjust="spacingAndGlyphs" stroke="#1e1e1e" stroke-width="0.25" stroke-linejoin="round">2</text>
<text x="191.27" y="1048.46" font-family='"Liberation Sans", sans-serif' font-size="10.40" text-anchor="end" fill="#1e1e1e" textLength="6.16" lengthAdjust="spacingAndGlyphs" stroke="#1e1e1e" stroke-width="0.25" stroke-linejoin="round">0</text>
<text x="317.82" y="1009.23" font-family='"Liberation Sans", sans-serif' font-size="10.40" text-anchor="start" fill="#1e1e1e" textLength="6.16" lengthAdjust="spacingAndGlyphs" stroke="#1e1e1e" stroke-width="0.25" stroke-linejoin="round">1</text>
<text x="317.82" y="1039.12" font-family='"Liberation Sans", sans-serif' font-size="10.40" text-anchor="start" fill="#1e1e1e" textLength="6.16" lengthAdjust="spacingAndGlyphs" stroke="#1e1e1e" stroke-width="0.25" stroke-linejoin="round">0</text>
<path d="M203.02,1062.69v3.50M217.74,1062.69v3.50M232.46,1062.69v3.50M247.18,1062.69v3.50M261.91,1062.69v3.50M276.63,1062.69v3.50M291.35,1062.69v3.50M306.07,1062.69v3.50M197.87,1001.55h-3.50M197.87,1044.51h-3.50M311.22,1005.28h3.50M311.22,1035.17h3.50" stroke="#333333" stroke-width="1.00" fill="none"/>
<text x="254.55" y="982.34" font-family='"Liberation Sans", sans-serif' font-size="10.92" font-weight="bold" text-anchor="middle" fill="#1e1e1e" textLength="62.88" lengthAdjust="spacingAndGlyphs" stroke="#1e1e1e" stroke-width="0.30" stroke-linejoin="round">2013/2014</text>
<polygon points="370.39,1057.32 385.11,1055.66 399.83,1053.52 414.55,1053.76 429.28,1047.34 444.00,1023.56 458.72,990.76 473.44,1027.13 473.44,1030.61 458.72,995.53 444.00,1027.17 429.28,1050.09 414.55,1056.28 399.83,1056.05 385.11,1058.12 370.39,1059.72" fill="#c9ecf8" stroke="#b6e5f5" stroke-width="0.7" stroke-linejoin="round"/>
<polyline points="370.39,1058.52 385.11,1056.89 399.83,1054.79 414.55,1055.02 429.28,1048.72 444.00,1025.37 458.72,993.14 473.44,1028.87" fill="none" stroke="#1f80e0" stroke-width="1.50" stroke-dasharray="5.2,2.0" stroke-linejoin="round"/>
<polyline points="370.39,1059.27 385.11,1023.71 399.83,1028.39 414.55,1033.07 429.28,1031.20 444.00,992.36 458.72,990.96 473.44,1032.13" fill="none" stroke="#e8b71d" stroke-width="1.50" stroke-linejoin="round"/>
<rect x="365.24" y="987.54" width="113.35" height="75.15" fill="none" stroke="#333333" stroke-width="1.00"/>
<text x="358.64" y="998.96" font-family='"Liberation Sans", sans-serif' font-size="10.40" text-anchor="end" fill="#1e1e1e" textLength="6.16" lengthAdjust="spacingAndGlyphs" stroke="#1e1e1e" stroke-width="0.25" stroke-linejoin="round">2</text>
<text x="358.64" y="1044.26" font-family='"Liberation Sans", sans-serif' font-size="10.40" text-anchor="end" fill="#1e1e1e" textLength="6.16" lengthAdjust="spacingAndGlyphs" stroke="#1e1e1e" stroke-width="0.25" stroke-linejoin="round">0</text>
<text x="485.19" y="1005.42" font-family='"Liberation Sans", sans-serif' font-size="10.40" text-anchor="start" fill="#1e1e1e" textLength="6.16" lengthAdjust="spacingAndGlyphs" stroke="#1e1e1e" stroke-width="0.25" stroke-linejoin="round">1</text>
<text x="485.19" y="1028.07" font-family='"Liberation Sans", sans-serif' font-size="10.40" text-anchor="start" fill="#1e1e1e" textLength="6.16" lengthAdjust="spacingAndGlyphs" stroke="#1e1e1e" stroke-width="0.25" stroke-linejoin="round">0</text>
<text x="485.19" y="1050.72" font-family='"Liberation Sans", sans-serif' font-size="10.40" text-anchor="start" fill="#1e1e1e" textLength="14.54" lengthAdjust="spacingAndGlyphs" stroke="#1e1e1e" stroke-width="0.25" stroke-linejoin="round">−1</text>
<path d="M370.39,1062.69v3.50M385.11,1062.69v3.50M399.83,1062.69v3.50M414.55,1062.69v3.50M429.28,1062.69v3.50M444.00,1062.69v3.50M458.72,1062.69v3.50M473.44,1062.69v3.50M365.24,995.01h-3.50M365.24,1040.31h-3.50M478.59,1001.47h3.50M478.59,1024.12h3.50M478.59,1046.77h3.50" stroke="#333333" stroke-width="1.00" fill="none"/>
<text x="421.92" y="982.34" font-family='"Liberation Sans", sans-serif' font-size="10.92" font-weight="bold" text-anchor="middle" fill="#1e1e1e" textLength="62.88" lengthAdjust="spacingAndGlyphs" stroke="#1e1e1e" stroke-width="0.30" stroke-linejoin="round">2014/2015</text>
<polygon points="537.76,1056.64 552.48,1056.64 567.20,1056.64 581.92,1056.64 596.65,1050.99 611.37,992.64 626.09,990.76 640.81,1048.64 640.81,1051.60 626.09,994.59 611.37,996.45 596.65,1053.91 581.92,1059.47 567.20,1059.47 552.48,1059.47 537.76,1059.47" fill="#c9ecf8" stroke="#b6e5f5" stroke-width="0.7" stroke-linejoin="round"/>
<polyline points="537.76,1058.06 552.48,1058.06 567.20,1058.06 581.92,1058.06 596.65,1052.45 611.37,994.54 626.09,992.68 640.81,1050.12" fill="none" stroke="#1f80e0" stroke-width="1.50" stroke-dasharray="5.2,2.0" stroke-linejoin="round"/>
<polyline points="537.76,1049.25 552.48,1050.18 567.20,1059.27 581.92,1050.18 596.65,1051.11 611.37,1014.97 626.09,990.96 640.81,1042.25" fill="none" stroke="#e8b71d" stroke-width="1.50" stroke-linejoin="round"/>
<rect x="532.61" y="987.54" width="113.35" height="75.15" fill="none" stroke="#333333" stroke-width="1.00"/>
<text x="526.01" y="1015.77" font-family='"Liberation Sans", sans-serif' font-size="10.40" text-anchor="end" fill="#1e1e1e" textLength="6.16" lengthAdjust="spacingAndGlyphs" stroke="#1e1e1e" stroke-width="0.25" stroke-linejoin="round">1</text>
<text x="526.01" y="1044.26" font-family='"Liberation Sans", sans-serif' font-size="10.40" text-anchor="end" fill="#1e1e1e" textLength="6.16" lengthAdjust="spacingAndGlyphs" stroke="#1e1e1e" stroke-width="0.25" stroke-linejoin="round">0</text>
<text x="652.56" y="995.69" font-family='"Liberation Sans", sans-serif' font-size="10.40" text-anchor="start" fill="#1e1e1e" textLength="6.16" lengthAdjust="spacingAndGlyphs" stroke="#1e1e1e" stroke-width="0.25" stroke-linejoin="round">2</text>
<text x="652.56" y="1041.92" font-family='"Liberation Sans", sans-serif' font-size="10.40" text-anchor="start" fill="#1e1e1e" textLength="6.16" lengthAdjust="spacingAndGlyphs" stroke="#1e1e1e" stroke-width="0.25" stroke-linejoin="round">0</text>
<path d="M537.76,1062.69v3.50M552.48,1062.69v3.50M567.20,1062.69v3.50M581.92,1062.69v3.50M596.65,1062.69v3.50M611.37,1062.69v3.50M626.09,1062.69v3.50M640.81,1062.69v3.50M532.61,1011.82h-3.50M532.61,1040.31h-3.50M645.96,991.74h3.50M645.96,1037.97h3.50" stroke="#333333" stroke-width="1.00" fill="none"/>
<text x="589.28" y="982.34" font-family='"Liberation Sans", sans-serif' font-size="10.92" font-weight="bold" text-anchor="middle" fill="#1e1e1e" textLength="62.88" lengthAdjust="spacingAndGlyphs" stroke="#1e1e1e" stroke-width="0.30" stroke-linejoin="round">2015/2016</text>
<polygon points="35.65,1160.56 50.37,1160.09 65.09,1153.57 79.81,1145.18 94.54,1145.18 109.26,1110.22 123.98,1094.84 138.70,1141.45 138.70,1144.37 123.98,1097.58 109.26,1113.02 94.54,1148.11 79.81,1148.11 65.09,1156.54 50.37,1163.09 35.65,1163.55" fill="#c9ecf8" stroke="#b6e5f5" stroke-width="0.7" stroke-linejoin="round"/>
<polyline points="35.65,1162.06 50.37,1161.59 65.09,1155.05 79.81,1146.64 94.54,1146.64 109.26,1111.62 123.98,1096.21 138.70,1142.91" fill="none" stroke="#1f80e0" stroke-width="1.50" stroke-dasharray="5.2,2.0" stroke-linejoin="round"/>
<polyline points="35.65,1156.38 50.37,1156.85 65.09,1110.84 79.81,1157.78 94.54,1137.79 109.26,1095.04 123.98,1134.07 138.70,1163.35" fill="none" stroke="#e8b71d" stroke-width="1.50" stroke-linejoin="round"/>
<rect x="30.50" y="1091.62" width="113.35" height="75.15" fill="none" stroke="#333333" stroke-width="1.00"/>
<text x="23.90" y="1097.82" font-family='"Liberation Sans", sans-serif' font-size="10.40" text-anchor="end" fill="#1e1e1e" textLength="6.16" lengthAdjust="spacingAndGlyphs" stroke="#1e1e1e" stroke-width="0.25" stroke-linejoin="round">2</text>
<text x="23.90" y="1144.52" font-family='"Liberation Sans", sans-serif' font-size="10.40" text-anchor="end" fill="#1e1e1e" textLength="6.16" lengthAdjust="spacingAndGlyphs" stroke="#1e1e1e" stroke-width="0.25" stroke-linejoin="round">0</text>
<text x="150.45" y="1118.84" font-family='"Liberation Sans", sans-serif' font-size="10.40" text-anchor="start" fill="#1e1e1e" textLength="6.16" lengthAdjust="spacingAndGlyphs" stroke="#1e1e1e" stroke-width="0.25" stroke-linejoin="round">1</text>
<text x="150.45" y="1143.59" font-family='"Liberation Sans", sans-serif' font-size="10.40" text-anchor="start" fill="#1e1e1e" textLength="6.16" lengthAdjust="spacingAndGlyphs" stroke="#1e1e1e" stroke-width="0.25" stroke-linejoin="round">0</text>
<text x="150.45" y="1168.34" font-family='"Liberation Sans", sans-serif' font-size="10.40" text-anchor="start" fill="#1e1e1e" textLength="14.54" lengthAdjust="spacingAndGlyphs" stroke="#1e1e1e" stroke-width="0.25" stroke-linejoin="round">−1</text>
<path d="M35.65,1166.77v3.50M50.37,1166.77v3.50M65.09,1166.77v3.50M79.81,1166.77v3.50M94.54,1166.77v3.50M109.26,1166.77v3.50M123.98,1166.77v3.50M138.70,1166.77v3.50M30.50,1093.87h-3.50M30.50,1140.57h-3.50M143.85,1114.89h3.50M143.85,1139.64h3.50M143.85,1164.39h3.50" stroke="#333333" stroke-width="1.00" fill="none"/>
<text x="87.17" y="1086.42" font-family='"Liberation Sans", sans-serif' font-size="10.92" font-weight="bold" text-anchor="middle" fill="#1e1e1e" textLength="62.88" lengthAdjust="spacingAndGlyphs" stroke="#1e1e1e" stroke-width="0.30" stroke-linejoin="round">2016/2017</text>
<g transform="translate(35.15,1182.46) rotate(-45)">
<text x="0.00" y="3.65" font-family='"Liberation Sans", sans-serif' font-size="10.40" text-anchor="middle" fill="#1e1e1e" textLength="16.69" lengthAdjust="spacingAndGlyphs" stroke="#1e1e1e" stroke-width="0.25" stroke-linejoin="round">Oct</text>
</g>
<g transform="translate(49.87,1183.25) rotate(-45)">
<text x="0.00" y="3.65" font-family='"Liberation Sans", sans-serif' font-size="10.40" text-anchor="middle" fill="#1e1e1e" textLength="18.92" lengthAdjust="spacingAndGlyphs" stroke="#1e1e1e" stroke-width="0.25" stroke-linejoin="round">Nov</text>
</g>
<g transform="translate(64.59,1183.19) rotate(-45)">
<text x="0.00" y="3.65" font-family='"Liberation Sans", sans-serif' font-size="10.40" text-anchor="middle" fill="#1e1e1e" textLength="18.75" lengthAdjust="spacingAndGlyphs" stroke="#1e1e1e" stroke-width="0.25" stroke-linejoin="round">Dec</text>
</g>
<g transform="translate(79.31,1181.80) rotate(-45)">
<text x="0.00" y="3.65" font-family='"Liberation Sans", sans-serif' font-size="10.40" text-anchor="middle" fill="#1e1e1e" textLength="14.82" lengthAdjust="spacingAndGlyphs" stroke="#1e1e1e" stroke-width="0.25" stroke-linejoin="round">Jan</text>
</g>
<g transform="translate(94.04,1182.61) rotate(-45)">
<text x="0.00" y="3.65" font-family='"Liberation Sans", sans-serif' font-size="10.40" text-anchor="middle" fill="#1e1e1e" textLength="17.11" lengthAdjust="spacingAndGlyphs" stroke="#1e1e1e" stroke-width="0.25" stroke-linejoin="round">Feb</text>
</g>
<g transform="translate(108.76,1183.02) rotate(-45)">
<text x="0.00" y="3.65" font-family='"Liberation Sans", sans-serif' font-size="10.40" text-anchor="middle" fill="#1e1e1e" textLength="18.27" lengthAdjust="spacingAndGlyphs" stroke="#1e1e1e" stroke-width="0.25" stroke-linejoin="round">Mar</text>
</g>
<g transform="translate(123.48,1182.47) rotate(-45)">
<text x="0.00" y="3.65" font-family='"Liberation Sans", sans-serif' font-size="10.40" text-anchor="middle" fill="#1e1e1e" textLength="16.70" lengthAdjust="spacingAndGlyphs" stroke="#1e1e1e" stroke-width="0.25" stroke-linejoin="round">Apr</text>
</g>
<g transform="translate(138.20,1183.66) rotate(-45)">
<text x="0.00" y="3.65" font-family='"Liberation Sans", sans-serif' font-size="10.40" text-anchor="middle" fill="#1e1e1e" textLength="20.07" lengthAdjust="spacingAndGlyphs" stroke="#1e1e1e" stroke-width="0.25" stroke-linejoin="round">May</text>
</g>
<polygon points="203.02,1159.62 217.74,1159.62 232.46,1158.68 247.18,1153.52 261.91,1142.25 276.63,1094.84 291.35,1097.18 306.07,1104.23 306.07,1108.74 291.35,1101.77 276.63,1099.45 261.91,1146.37 247.18,1157.52 232.46,1162.63 217.74,1163.55 203.02,1163.55" fill="#c9ecf8" stroke="#b6e5f5" stroke-width="0.7" stroke-linejoin="round"/>
<polyline points="203.02,1161.59 217.74,1161.59 232.46,1160.65 247.18,1155.52 261.91,1144.31 276.63,1097.14 291.35,1099.48 306.07,1106.48" fill="none" stroke="#1f80e0" stroke-width="1.50" stroke-dasharray="5.2,2.0" stroke-linejoin="round"/>
<polyline points="203.02,1163.35 217.74,1163.35 232.46,1163.35 247.18,1162.42 261.91,1151.66 276.63,1095.04 291.35,1127.32 306.07,1128.96" fill="none" stroke="#e8b71d" stroke-width="1.50" stroke-linejoin="round"/>
<rect x="197.87" y="1091.62" width="113.35" height="75.15" fill="none" stroke="#333333" stroke-width="1.00"/>
<text x="191.27" y="1110.43" font-family='"Liberation Sans", sans-serif' font-size="10.40" text-anchor="end" fill="#1e1e1e" textLength="6.16" lengthAdjust="spacingAndGlyphs" stroke="#1e1e1e" stroke-width="0.25" stroke-linejoin="round">1</text>
<text x="191.27" y="1139.85" font-family='"Liberation Sans", sans-serif' font-size="10.40" text-anchor="end" fill="#1e1e1e" textLength="6.16" lengthAdjust="spacingAndGlyphs" stroke="#1e1e1e" stroke-width="0.25" stroke-linejoin="round">0</text>
<text x="191.27" y="1169.27" font-family='"Liberation Sans", sans-serif' font-size="10.40" text-anchor="end" fill="#1e1e1e" textLength="14.54" lengthAdjust="spacingAndGlyphs" stroke="#1e1e1e" stroke-width="0.25" stroke-linejoin="round">−1</text>
<text x="317.82" y="1098.29" font-family='"Liberation Sans", sans-serif' font-size="10.40" text-anchor="start" fill="#1e1e1e" textLength="6.16" lengthAdjust="spacingAndGlyphs" stroke="#1e1e1e" stroke-width="0.25" stroke-linejoin="round">2</text>
<text x="317.82" y="1123.51" font-family='"Liberation Sans", sans-serif' font-size="10.40" text-anchor="start" fill="#1e1e1e" textLength="6.16" lengthAdjust="spacingAndGlyphs" stroke="#1e1e1e" stroke-width="0.25" stroke-linejoin="round">1</text>
<text x="317.82" y="1148.73" font-family='"Liberation Sans", sans-serif' font-size="10.40" text-anchor="start" fill="#1e1e1e" textLength="6.16" lengthAdjust="spacingAndGlyphs" stroke="#1e1e1e" stroke-width="0.25" stroke-linejoin="round">0</text>
<path d="M203.02,1166.77v3.50M217.74,1166.77v3.50M232.46,1166.77v3.50M247.18,1166.77v3.50M261.91,1166.77v3.50M276.63,1166.77v3.50M291.35,1166.77v3.50M306.07,1166.77v3.50M197.87,1106.48h-3.50M197.87,1135.90h-3.50M197.87,1165.32h-3.50M311.22,1094.34h3.50M311.22,1119.56h3.50M311.22,1144.78h3.50" stroke="#333333" stroke-width="1.00" fill="none"/>
<text x="254.55" y="1086.42" font-family='"Liberation Sans", sans-serif' font-size="10.92" font-weight="bold" text-anchor="middle" fill="#1e1e1e" textLength="62.88" lengthAdjust="spacingAndGlyphs" stroke="#1e1e1e" stroke-width="0.30" stroke-linejoin="round">2017/2018</text>
<g transform="translate(202.52,1182.46) rotate(-45)">
<text x="0.00" y="3.65" font-family='"Liberation Sans", sans-serif' font-size="10.40" text-anchor="middle" fill="#1e1e1e" textLength="16.69" lengthAdjust="spacingAndGlyphs" stroke="#1e1e1e" stroke-width="0.25" stroke-linejoin="round">Oct</text>
</g>
<g transform="translate(217.24,1183.25) rotate(-45)">
<text x="0.00" y="3.65" font-family='"Liberation Sans", sans-serif' font-size="10.40" text-anchor="middle" fill="#1e1e1e" textLength="18.92" lengthAdjust="spacingAndGlyphs" stroke="#1e1e1e" stroke-width="0.25" stroke-linejoin="round">Nov</text>
</g>
<g transform="translate(231.96,1183.19) rotate(-45)">
<text x="0.00" y="3.65" font-family='"Liberation Sans", sans-serif' font-size="10.40" text-anchor="middle" fill="#1e1e1e" textLength="18.75" lengthAdjust="spacingAndGlyphs" stroke="#1e1e1e" stroke-width="0.25" stroke-linejoin="round">Dec</text>
</g>
<g transform="translate(246.68,1181.80) rotate(-45)">
<text x="0.00" y="3.65" font-family='"Liberation Sans", sans-serif' font-size="10.40" text-anchor="middle" fill="#1e1e1e" textLength="14.82" lengthAdjust="spacingAndGlyphs" stroke="#1e1e1e" stroke-width="0.25" stroke-linejoin="round">Jan</text>
</g>
<g transform="translate(261.41,1182.61) rotate(-45)">
<text x="0.00" y="3.65" font-family='"Liberation Sans", sans-serif' font-size="10.40" text-anchor="middle" fill="#1e1e1e" textLength="17.11" lengthAdjust="spacingAndGlyphs" stroke="#1e1e1e" stroke-width="0.25" stroke-linejoin="round">Feb</text>
</g>
<g transform="translate(276.13,1183.02) rotate(-45)">
<text x="0.00" y="3.65" font-family='"Liberation Sans", sans-serif' font-size="10.40" text-anchor="middle" fill="#1e1e1e" textLength="18.27" lengthAdjust="spacingAndGlyphs" stroke="#1e1e1e" stroke-width="0.25" stroke-linejoin="round">Mar</text>
</g>
<g transform="translate(290.85,1182.47) rotate(-45)">
<text x="0.00" y="3.65" font-family='"Liberation Sans", sans-serif' font-size="10.40" text-anchor="middle" fill="#1e1e1e" textLength="16.70" lengthAdjust="spacingAndGlyphs" stroke="#1e1e1e" stroke-width="0.25" stroke-linejoin="round">Apr</text>
</g>
<g transform="translate(305.57,1183.66) rotate(-45)">
<text x="0.00" y="3.65" font-family='"Liberation Sans", sans-serif' font-size="10.40" text-anchor="middle" fill="#1e1e1e" textLength="20.07" lengthAdjust="spacingAndGlyphs" stroke="#1e1e1e" stroke-width="0.25" stroke-linejoin="round">May</text>
</g>
<polygon points="370.39,1160.56 385.11,1108.45 399.83,1141.31 414.55,1158.68 429.28,1151.64 444.00,1140.37 458.72,1094.84 473.44,1097.65 473.44,1101.30 458.72,1098.51 444.00,1143.58 429.28,1154.73 414.55,1161.70 399.83,1144.51 385.11,1111.99 370.39,1163.55" fill="#c9ecf8" stroke="#b6e5f5" stroke-width="0.7" stroke-linejoin="round"/>
<polyline points="370.39,1162.06 385.11,1110.22 399.83,1142.91 414.55,1160.19 429.28,1153.18 444.00,1141.97 458.72,1096.68 473.44,1099.48" fill="none" stroke="#1f80e0" stroke-width="1.50" stroke-dasharray="5.2,2.0" stroke-linejoin="round"/>
<polyline points="370.39,1163.35 385.11,1095.04 399.83,1133.61 414.55,1154.99 429.28,1161.50 444.00,1161.50 458.72,1135.00 473.44,1133.15" fill="none" stroke="#e8b71d" stroke-width="1.50" stroke-linejoin="round"/>
<rect x="365.24" y="1091.62" width="113.35" height="75.15" fill="none" stroke="#333333" stroke-width="1.00"/>
<text x="358.64" y="1111.29" font-family='"Liberation Sans", sans-serif' font-size="10.40" text-anchor="end" fill="#1e1e1e" textLength="6.16" lengthAdjust="spacingAndGlyphs" stroke="#1e1e1e" stroke-width="0.25" stroke-linejoin="round">1</text>
<text x="358.64" y="1138.14" font-family='"Liberation Sans", sans-serif' font-size="10.40" text-anchor="end" fill="#1e1e1e" textLength="6.16" lengthAdjust="spacingAndGlyphs" stroke="#1e1e1e" stroke-width="0.25" stroke-linejoin="round">0</text>
<text x="358.64" y="1164.99" font-family='"Liberation Sans", sans-serif' font-size="10.40" text-anchor="end" fill="#1e1e1e" textLength="14.54" lengthAdjust="spacingAndGlyphs" stroke="#1e1e1e" stroke-width="0.25" stroke-linejoin="round">−1</text>
<text x="485.19" y="1100.16" font-family='"Liberation Sans", sans-serif' font-size="10.40" text-anchor="start" fill="#1e1e1e" textLength="6.16" lengthAdjust="spacingAndGlyphs" stroke="#1e1e1e" stroke-width="0.25" stroke-linejoin="round">2</text>
<text x="485.19" y="1146.86" font-family='"Liberation Sans", sans-serif' font-size="10.40" text-anchor="start" fill="#1e1e1e" textLength="6.16" lengthAdjust="spacingAndGlyphs" stroke="#1e1e1e" stroke-width="0.25" stroke-linejoin="round">0</text>
<path d="M370.39,1166.77v3.50M385.11,1166.77v3.50M399.83,1166.77v3.50M414.55,1166.77v3.50M429.28,1166.77v3.50M444.00,1166.77v3.50M458.72,1166.77v3.50M473.44,1166.77v3.50M365.24,1107.34h-3.50M365.24,1134.19h-3.50M365.24,1161.04h-3.50M478.59,1096.21h3.50M478.59,1142.91h3.50" stroke="#333333" stroke-width="1.00" fill="none"/>
<text x="421.92" y="1086.42" font-family='"Liberation Sans", sans-serif' font-size="10.92" font-weight="bold" text-anchor="middle" fill="#1e1e1e" textLength="62.88" lengthAdjust="spacingAndGlyphs" stroke="#1e1e1e" stroke-width="0.30" stroke-linejoin="round">2018/2019</text>
<g transform="translate(369.89,1182.46) rotate(-45)">
<text x="0.00" y="3.65" font-family='"Liberation Sans", sans-serif' font-size="10.40" text-anchor="middle" fill="#1e1e1e" textLength="16.69" lengthAdjust="spacingAndGlyphs" stroke="#1e1e1e" stroke-width="0.25" stroke-linejoin="round">Oct</text>
</g>
<g transform="translate(384.61,1183.25) rotate(-45)">
<text x="0.00" y="3.65" font-family='"Liberation Sans", sans-serif' font-size="10.40" text-anchor="middle" fill="#1e1e1e" textLength="18.92" lengthAdjust="spacingAndGlyphs" stroke="#1e1e1e" stroke-width="0.25" stroke-linejoin="round">Nov</text>
</g>
<g transform="translate(399.33,1183.19) rotate(-45)">
<text x="0.00" y="3.65" font-family='"Liberation Sans", sans-serif' font-size="10.40" text-anchor="middle" fill="#1e1e1e" textLength="18.75" lengthAdjust="spacingAndGlyphs" stroke="#1e1e1e" stroke-width="0.25" stroke-linejoin="round">Dec</text>
</g>
<g transform="translate(414.05,1181.80) rotate(-45)">
<text x="0.00" y="3.65" font-family='"Liberation Sans", sans-serif' font-size="10.40" text-anchor="middle" fill="#1e1e1e" textLength="14.82" lengthAdjust="spacingAndGlyphs" stroke="#1e1e1e" stroke-width="0.25" stroke-linejoin="round">Jan</text>
</g>
<g transform="translate(428.78,1182.61) rotate(-45)">
<text x="0.00" y="3.65" font-family='"Liberation Sans", sans-serif' font-size="10.40" text-anchor="middle" fill="#1e1e1e" textLength="17.11" lengthAdjust="spacingAndGlyphs" stroke="#1e1e1e" stroke-width="0.25" stroke-linejoin="round">Feb</text>
</g>
<g transform="translate(443.50,1183.02) rotate(-45)">
<text x="0.00" y="3.65" font-family='"Liberation Sans", sans-serif' font-size="10.40" text-anchor="middle" fill="#1e1e1e" textLength="18.27" lengthAdjust="spacingAndGlyphs" stroke="#1e1e1e" stroke-width="0.25" stroke-linejoin="round">Mar</text>
</g>
<g transform="translate(458.22,1182.47) rotate(-45)">
<text x="0.00" y="3.65" font-family='"Liberation Sans", sans-serif' font-size="10.40" text-anchor="middle" fill="#1e1e1e" textLength="16.70" lengthAdjust="spacingAndGlyphs" stroke="#1e1e1e" stroke-width="0.25" stroke-linejoin="round">Apr</text>
</g>
<g transform="translate(472.94,1183.66) rotate(-45)">
<text x="0.00" y="3.65" font-family='"Liberation Sans", sans-serif' font-size="10.40" text-anchor="middle" fill="#1e1e1e" textLength="20.07" lengthAdjust="spacingAndGlyphs" stroke="#1e1e1e" stroke-width="0.25" stroke-linejoin="round">May</text>
</g>
<rect x="202.40" y="1198.20" width="285.20" height="34.70" rx="2" fill="#a6a6a6"/>
<rect x="200.40" y="1196.20" width="285.20" height="34.70" rx="2" fill="#ffffff" stroke="#d6d6d6" stroke-width="0.9"/>
<line x1="203.8" y1="1205.2" x2="226.5" y2="1205.2" stroke="#1f80e0" stroke-width="1.5" stroke-dasharray="5.2,2.0"/>
<line x1="203.6" y1="1221.0" x2="226.5" y2="1221.0" stroke="#e8b71d" stroke-width="1.5"/>
<rect x="367.1" y="1201.1" width="22.2" height="7.8" fill="#c9ecf8" stroke="#b6e5f5" stroke-width="0.8"/>
<text x="234.40" y="1209.00" font-family='"Liberation Sans", sans-serif' font-size="11.13" text-anchor="start" fill="#1e1e1e" textLength="91.60" lengthAdjust="spacingAndGlyphs" stroke="#1e1e1e" stroke-width="0.25" stroke-linejoin="round">Outflow anomaly</text>
<text x="234.40" y="1224.60" font-family='"Liberation Sans", sans-serif' font-size="11.13" text-anchor="start" fill="#1e1e1e" textLength="110.60" lengthAdjust="spacingAndGlyphs" stroke="#1e1e1e" stroke-width="0.25" stroke-linejoin="round">Streamflow anomaly</text>
<text x="398.00" y="1209.00" font-family='"Liberation Sans", sans-serif' font-size="11.13" text-anchor="start" fill="#1e1e1e" textLength="83.45" lengthAdjust="spacingAndGlyphs" stroke="#1e1e1e" stroke-width="0.25" stroke-linejoin="round">90% CI Outflow</text>
</svg>
</body></html>
